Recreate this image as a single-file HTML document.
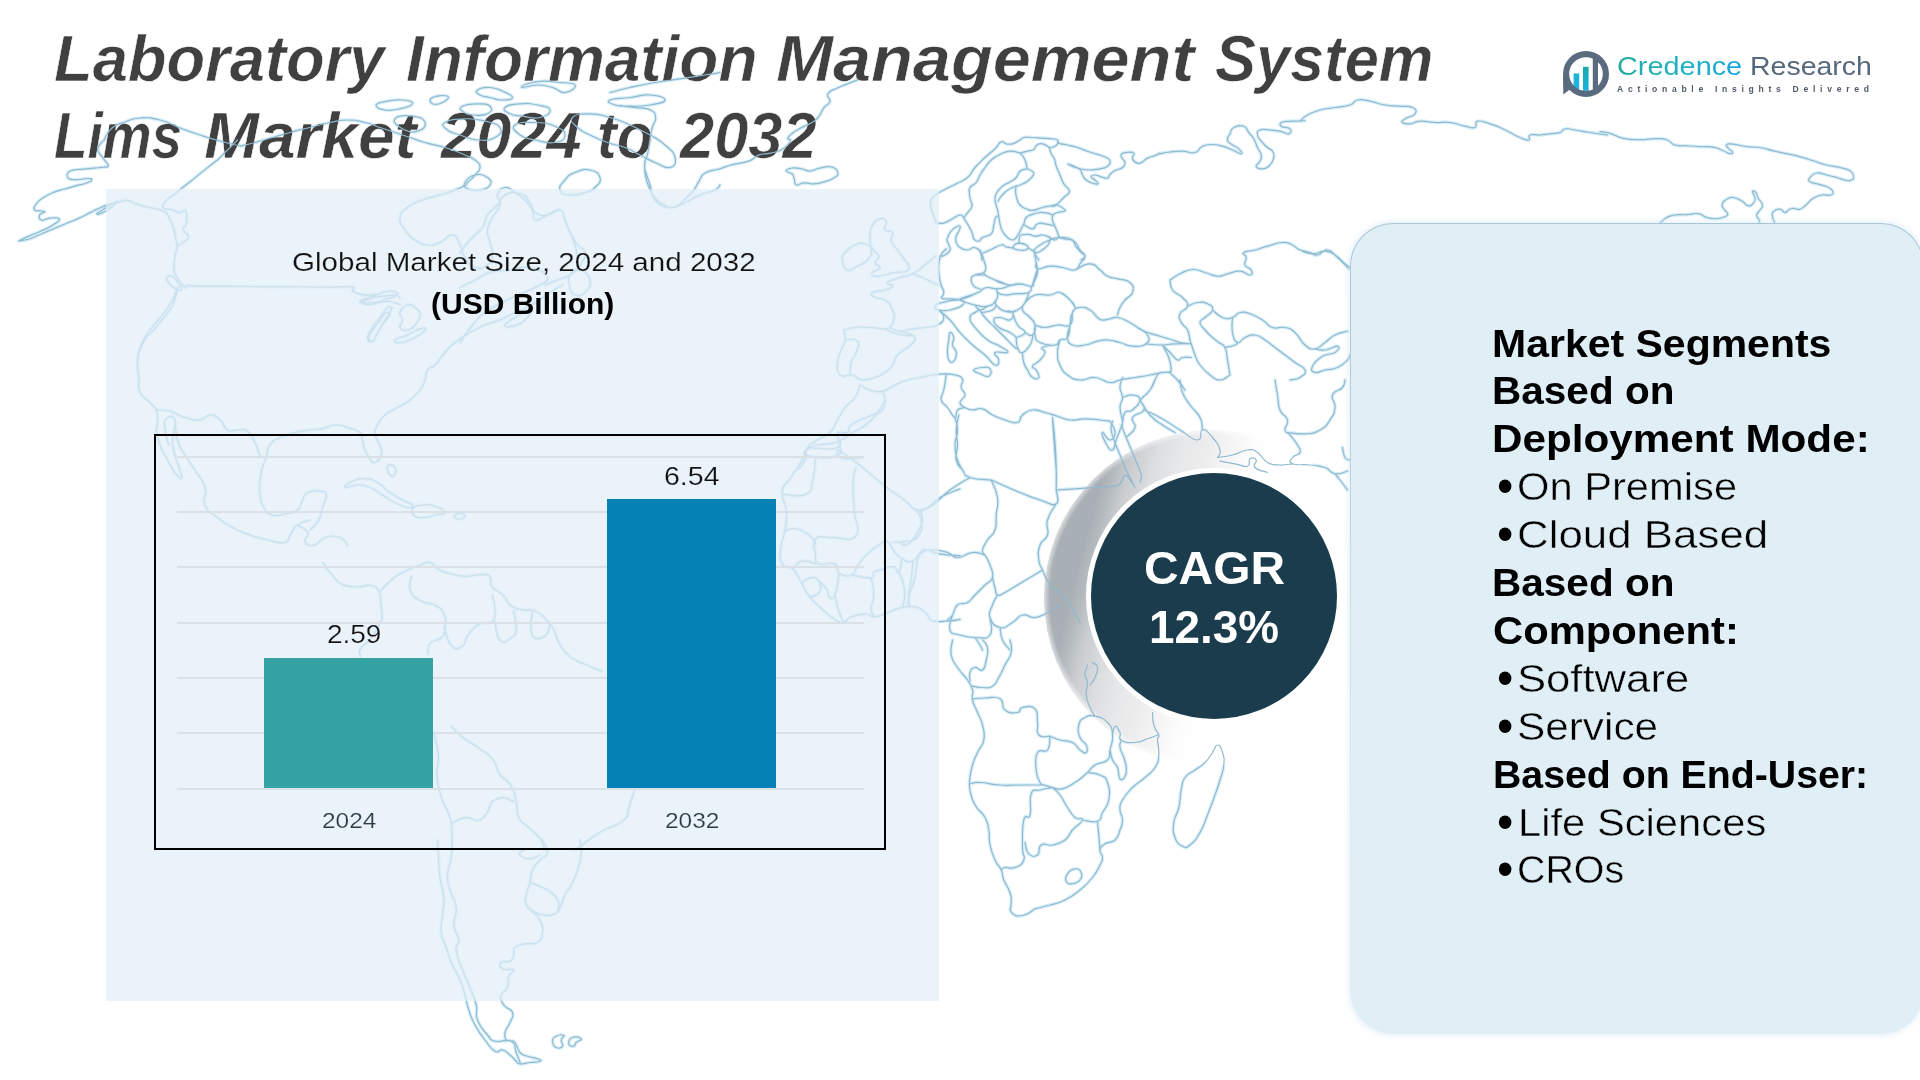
<!DOCTYPE html>
<html lang="en"><head><meta charset="utf-8">
<title>Laboratory Information Management System Lims Market 2024 to 2032</title>
<style>
html,body{margin:0;padding:0;background:#fff}
body{width:1920px;height:1080px;position:relative;overflow:hidden;font-family:'Liberation Sans', sans-serif}
h1,section,header{margin:0;padding:0}
.tx{position:absolute;white-space:pre;transform-origin:0 0;margin:0;display:block}
.ttl{-webkit-text-stroke:0.6px #fff}
.thinS{-webkit-text-stroke:0.45px #e0eff6}
.thinC{-webkit-text-stroke:0.2px #eaf3fa}
@supports ((-webkit-background-clip:text) or (background-clip:text)){.cred{background:linear-gradient(90deg,#22a99b 0%,#1fb2c4 50%,#1aa6dc 100%);-webkit-background-clip:text;background-clip:text;-webkit-text-fill-color:transparent}}
.map{position:absolute;left:0;top:0;width:1920px;height:1080px}
#panel{position:absolute;left:106px;top:189px;width:832.5px;height:812px;background:rgba(226,238,248,.72)}
#chart{position:absolute;left:154px;top:434px;width:728px;height:412px;border:2px solid #000}
.gl{position:absolute;left:177px;width:687px;height:1.8px;background:#d9e0e6}
.bar{position:absolute}
#b1{left:264px;top:658px;width:169px;height:130px;background:#35a2a3}
#b2{left:607px;top:499px;width:169px;height:289px;background:#0581b3}
#cres{position:absolute;left:1044px;top:430px;width:336px;height:336px;border-radius:50%;
 background:radial-gradient(circle closest-side,rgba(255,255,255,0) 96.5%,rgba(255,255,255,.5) 99.5%),linear-gradient(104.5deg,#a9b0b5 0%,#a9b0b5 16.5%,#b4b9bd 19%,#c9cdd0 22.5%,#dcdee0 28.5%,#e7e8e9 34%,#ededee 40%,#f5f5f6 45%,#fcfcfc 50%,#fff 54%,#fff 100%)}
#circ{position:absolute;left:1086px;top:468px;width:246px;height:246px;border-radius:50%;background:#1a3c4c;border:5px solid #fff}
#seg{position:absolute;left:1349.5px;top:223px;width:574px;height:811px;border-radius:43px;border:1.6px solid transparent;box-sizing:border-box;
 background:linear-gradient(#e0eff6,#e0eff6) padding-box,linear-gradient(180deg,#a6c5d8 0%,#b4d0de 25%,#cfe2ea 55%,#e0eff6 85%) border-box;box-shadow:0 0 6px 1px rgba(205,228,240,.6)}
</style></head>
<body>
<svg class="map" id="mapglow" viewBox="0 0 1920 1080" aria-hidden="true"><defs><path id="wm" d="M936.2 222.5C935.2 219.8 934.0 217.8 932.5 212.5C931.0 207.2 930.3 206.8 930.6 202.5C931.0 198.2 930.2 199.6 933.8 196.2C937.2 192.9 937.8 193.3 943.8 190.0C949.8 186.7 949.9 187.1 956.2 183.8C962.6 180.4 962.5 181.8 967.5 177.5C972.5 173.2 970.3 172.8 975.0 167.5C979.7 162.2 979.7 162.5 985.0 157.5C990.3 152.5 990.7 152.9 995.0 148.8C999.3 144.6 998.2 143.2 1001.2 141.9C1004.2 140.5 1003.2 143.2 1006.2 143.8C1009.2 144.2 1008.8 144.8 1012.5 143.8C1016.2 142.8 1017.0 141.7 1020.0 140.0C1023.0 138.3 1020.4 138.2 1023.8 137.5C1027.1 136.8 1027.5 137.3 1032.5 137.5C1037.5 137.7 1037.2 137.8 1042.5 138.1C1047.8 138.5 1048.5 138.2 1052.5 138.8C1056.5 139.2 1055.8 138.8 1057.5 140.0C1059.2 141.2 1056.1 141.8 1058.8 143.1C1061.4 144.5 1062.5 143.8 1067.5 145.0C1072.5 146.2 1072.2 145.8 1077.5 147.5C1082.8 149.2 1082.2 149.4 1087.5 151.2C1092.8 153.1 1092.5 152.7 1097.5 154.4C1102.5 156.0 1102.9 155.7 1106.2 157.5C1109.6 159.3 1109.7 158.9 1110.0 161.2C1110.3 163.6 1110.2 164.2 1107.5 166.2C1104.8 168.2 1104.7 167.8 1100.0 168.8C1095.3 169.8 1095.3 170.0 1090.0 170.0C1084.7 170.0 1084.7 169.9 1080.0 168.8C1075.3 167.6 1075.7 166.9 1072.5 165.6C1069.3 164.4 1067.8 163.7 1068.1 164.0C1068.5 164.3 1070.6 165.4 1073.8 166.9C1076.9 168.3 1077.7 167.2 1080.0 169.4C1082.3 171.5 1080.8 172.2 1082.5 175.0C1084.2 177.8 1083.6 177.8 1086.2 180.0C1088.9 182.2 1089.3 182.1 1092.5 183.1C1095.7 184.1 1097.5 184.6 1098.1 183.8C1098.8 182.9 1096.8 181.8 1095.0 180.0C1093.2 178.2 1091.2 178.2 1091.2 176.9C1091.2 175.5 1092.3 175.0 1095.0 175.0C1097.7 175.0 1097.9 176.0 1101.2 176.9C1104.6 177.7 1105.2 178.8 1107.5 178.1C1109.8 177.5 1108.0 176.4 1110.0 174.4C1112.0 172.4 1111.7 172.5 1115.0 170.6C1118.3 168.8 1119.8 169.7 1122.5 167.5C1125.2 165.3 1125.0 164.8 1125.0 162.5C1125.0 160.2 1123.5 160.9 1122.5 158.8C1121.5 156.6 1120.2 156.0 1121.2 154.4C1122.2 152.7 1122.9 152.8 1126.2 152.5C1129.6 152.2 1132.1 151.5 1133.8 153.1C1135.4 154.8 1131.5 156.1 1132.5 158.8C1133.5 161.4 1134.8 162.3 1137.5 163.1C1140.2 164.0 1139.8 163.2 1142.5 161.9C1145.2 160.5 1144.2 159.8 1147.5 158.1C1150.8 156.5 1151.7 157.0 1155.0 155.6C1158.3 154.3 1158.7 153.8 1160.0 153.1M963.8 217.5C965.1 215.8 966.6 214.2 968.8 211.2C970.9 208.2 971.4 209.2 971.9 206.2C972.4 203.2 971.3 203.3 970.6 200.0C970.0 196.7 969.5 197.1 969.4 193.8C969.2 190.4 968.2 190.5 970.0 187.5C971.8 184.5 973.6 185.8 976.2 182.5C978.9 179.2 977.7 179.0 980.0 175.0C982.3 171.0 982.0 171.5 985.0 167.5C988.0 163.5 987.2 163.5 991.2 160.0C995.2 156.5 995.0 156.7 1000.0 154.4C1005.0 152.0 1004.7 151.6 1010.0 151.2C1015.3 150.9 1017.3 152.6 1020.0 153.1M1020.0 153.1C1022.0 152.6 1023.8 152.2 1027.5 151.2C1031.2 150.2 1031.2 151.0 1033.8 149.4C1036.2 147.7 1034.5 146.5 1036.9 145.0C1039.2 143.5 1039.7 143.4 1042.5 143.8C1045.3 144.1 1045.5 145.2 1047.5 146.2C1049.5 147.2 1048.0 147.5 1050.0 147.5C1052.0 147.5 1052.8 147.4 1055.0 146.2C1057.2 145.1 1057.3 144.0 1058.1 143.1M1020.0 153.1C1021.0 154.3 1022.1 154.7 1023.8 157.5C1025.4 160.3 1025.4 160.8 1026.2 163.8C1027.1 166.8 1026.7 167.4 1026.9 168.8M1049.4 147.5C1049.9 149.2 1049.9 150.8 1051.2 153.8C1052.6 156.8 1053.0 155.4 1054.4 158.8C1055.7 162.1 1054.8 161.9 1056.2 166.2C1057.8 170.6 1058.0 170.3 1060.0 175.0C1062.0 179.7 1061.2 179.4 1063.8 183.8C1066.2 188.1 1069.4 187.6 1069.4 191.2C1069.4 194.9 1067.2 193.8 1063.8 197.5C1060.2 201.2 1059.2 202.7 1056.2 205.0C1053.2 207.3 1053.5 205.9 1052.5 206.2M1026.9 168.8C1025.0 169.4 1022.8 168.9 1020.0 171.2C1017.2 173.6 1018.9 174.7 1016.2 177.5C1013.6 180.3 1013.7 179.5 1010.0 181.9C1006.3 184.2 1006.0 183.4 1002.5 186.2C999.0 189.1 998.9 189.2 996.9 192.5C994.9 195.8 995.2 195.4 995.0 198.8C994.8 202.1 995.4 201.3 996.2 205.0C997.1 208.7 997.1 207.5 998.1 212.5C999.1 217.5 998.8 218.8 1000.0 223.8C1001.2 228.8 1000.5 227.6 1002.5 231.2C1004.5 234.9 1004.8 235.2 1007.5 237.5C1010.2 239.8 1010.2 240.0 1012.5 240.0C1014.8 240.0 1014.2 239.8 1016.2 237.5C1018.2 235.2 1018.0 234.9 1020.0 231.2C1022.0 227.6 1022.1 227.4 1023.8 223.8C1025.4 220.1 1023.9 220.0 1026.2 217.5C1028.6 215.0 1028.8 215.7 1032.5 214.4C1036.2 213.0 1036.0 212.8 1040.0 212.5C1044.0 212.2 1044.2 212.5 1047.5 213.1C1050.8 213.8 1051.2 214.5 1052.5 215.0M1026.9 168.8C1028.5 169.6 1031.6 169.9 1033.1 171.9C1034.6 173.9 1034.0 173.8 1032.5 176.2C1031.0 178.8 1030.8 178.9 1027.5 181.2C1024.2 183.6 1024.0 183.3 1020.0 185.0C1016.0 186.7 1016.2 185.8 1012.5 187.5C1008.8 189.2 1009.2 188.9 1006.2 191.2C1003.2 193.6 1003.4 193.6 1001.2 196.2C999.1 198.9 999.0 199.9 998.1 201.2M1016.2 186.2C1016.1 187.6 1015.5 187.9 1015.6 191.2C1015.8 194.6 1015.7 195.1 1016.9 198.8C1018.0 202.4 1017.5 202.3 1020.0 205.0C1022.5 207.7 1022.9 207.3 1026.2 208.8C1029.6 210.2 1028.2 210.7 1032.5 210.4C1036.8 210.0 1037.2 208.8 1042.5 207.5C1047.8 206.2 1048.7 206.3 1052.5 205.6C1056.3 205.0 1053.9 204.2 1056.9 205.0C1059.9 205.8 1061.8 207.1 1063.8 208.8C1065.8 210.4 1066.0 210.2 1064.4 211.2C1062.7 212.2 1060.5 211.5 1057.5 212.5C1054.5 213.5 1054.5 213.0 1053.1 215.0C1051.8 217.0 1052.2 217.3 1052.5 220.0C1052.8 222.7 1053.9 223.7 1054.4 225.0M998.8 216.2C997.9 216.6 997.0 215.2 995.6 217.5C994.3 219.8 994.9 220.7 993.8 225.0C992.6 229.3 994.2 230.4 991.2 233.8C988.2 237.1 985.8 235.5 982.5 237.5C979.2 239.5 981.1 240.9 978.8 241.2C976.4 241.6 975.4 240.8 973.8 238.8C972.1 236.8 973.8 237.1 972.5 233.8C971.2 230.4 971.1 230.4 968.8 226.2C966.4 222.1 966.1 221.1 963.8 218.1C961.4 215.1 963.0 214.8 960.0 215.0C957.0 215.2 956.8 216.6 952.5 218.8C948.2 220.9 948.1 222.1 943.8 223.1C939.4 224.1 938.2 222.7 936.2 222.5M1024.4 225.0C1026.5 226.0 1029.0 229.1 1032.5 228.8C1036.0 228.4 1034.2 225.1 1037.5 223.8C1040.8 222.4 1040.8 223.2 1045.0 223.8C1049.2 224.2 1051.0 225.1 1053.1 225.6M1020.0 235.0C1022.3 234.8 1024.8 234.0 1028.8 234.4C1032.8 234.7 1031.3 236.1 1035.0 236.2C1038.7 236.4 1038.5 234.7 1042.5 235.0C1046.5 235.3 1046.7 236.2 1050.0 237.5C1053.3 238.8 1052.7 240.3 1055.0 240.0C1057.3 239.7 1057.8 237.2 1058.8 236.2M1054.4 225.0C1055.2 227.0 1056.2 229.3 1057.5 232.5C1058.8 235.7 1057.7 235.2 1059.4 236.9C1061.0 238.5 1060.2 237.8 1063.8 238.8C1067.2 239.8 1069.2 238.5 1072.5 240.6C1075.8 242.8 1073.9 243.7 1076.2 246.9C1078.6 250.0 1078.9 250.0 1081.2 252.5C1083.6 255.0 1085.0 254.2 1085.0 256.2C1085.0 258.2 1082.2 259.0 1081.2 260.0M1050.0 237.5C1049.7 239.2 1050.4 240.8 1048.8 243.8C1047.1 246.8 1046.8 246.4 1043.8 248.8C1040.8 251.1 1040.2 251.8 1037.5 252.5C1034.8 253.2 1036.1 252.4 1033.8 251.2C1031.4 250.1 1030.8 249.8 1028.8 248.1C1026.8 246.5 1028.9 246.3 1026.2 245.0C1023.6 243.7 1020.8 243.6 1018.8 243.1M1013.8 248.1C1012.8 246.6 1013.3 245.7 1015.0 244.4C1016.7 243.0 1017.0 243.0 1020.0 243.1C1023.0 243.3 1024.1 243.7 1026.2 245.0C1028.4 246.3 1028.5 246.8 1028.1 248.1C1027.8 249.5 1027.5 249.5 1025.0 250.0C1022.5 250.5 1021.8 250.5 1018.8 250.0C1015.8 249.5 1014.8 249.6 1013.8 248.1M1018.8 243.1C1018.9 241.6 1019.0 239.7 1019.4 237.5C1019.7 235.3 1019.8 235.7 1020.0 235.0M981.2 253.8C983.6 252.8 984.7 252.3 990.0 250.0C995.3 247.7 996.9 245.8 1001.2 245.0C1005.6 244.2 1002.9 246.0 1006.2 246.9C1009.6 247.7 1011.8 247.8 1013.8 248.1M946.9 240.0C947.7 238.0 947.5 236.0 950.0 232.5C952.5 229.0 953.6 228.5 956.2 226.9C958.9 225.2 959.3 225.1 960.0 226.2C960.7 227.4 959.8 228.6 958.8 231.2C957.8 233.9 956.9 233.2 956.2 236.2C955.6 239.2 955.2 239.5 956.2 242.5C957.2 245.5 957.0 245.5 960.0 247.5C963.0 249.5 963.8 250.0 967.5 250.0C971.2 250.0 970.8 247.5 973.8 247.5C976.8 247.5 976.8 248.0 978.8 250.0C980.8 252.0 980.4 252.3 981.2 255.0C982.1 257.7 981.7 258.7 981.9 260.0M946.9 240.0C947.4 241.3 947.9 242.3 948.8 245.0C949.6 247.7 951.0 247.3 950.0 250.0C949.0 252.7 947.7 253.3 945.0 255.0C942.3 256.7 941.3 255.9 940.0 256.2M1033.8 251.2C1034.4 252.6 1034.9 253.9 1036.2 256.2C1037.6 258.6 1038.1 259.0 1038.8 260.0M1160.0 153.8C1162.7 153.3 1164.0 152.7 1170.0 152.0C1176.0 151.3 1175.8 151.1 1182.5 151.2C1189.2 151.4 1189.7 153.8 1195.0 152.5C1200.3 151.2 1197.8 148.4 1202.5 146.2C1207.2 144.1 1207.2 144.5 1212.5 144.5C1217.8 144.5 1217.2 144.8 1222.5 146.2C1227.8 147.7 1227.5 148.0 1232.5 150.0C1237.5 152.0 1239.6 154.1 1241.2 153.8C1242.9 153.4 1241.1 151.1 1238.8 148.8C1236.4 146.4 1235.5 147.3 1232.5 145.0C1229.5 142.7 1228.2 143.0 1227.5 140.0C1226.8 137.0 1228.3 137.1 1230.0 133.8C1231.7 130.4 1230.1 129.5 1233.8 127.5C1237.4 125.5 1239.8 124.9 1243.8 126.2C1247.8 127.6 1246.1 129.2 1248.8 132.5C1251.4 135.8 1251.4 134.8 1253.8 138.8C1256.1 142.8 1255.5 143.2 1257.5 147.5C1259.5 151.8 1260.6 151.3 1261.2 155.0C1261.9 158.7 1261.3 158.2 1260.0 161.2C1258.7 164.2 1255.6 164.2 1256.2 166.2C1256.9 168.2 1258.8 169.1 1262.5 168.8C1266.2 168.4 1267.0 168.0 1270.0 165.0C1273.0 162.0 1273.1 161.2 1273.8 157.5C1274.4 153.8 1274.2 153.9 1272.5 151.2C1270.8 148.6 1270.5 150.2 1267.5 147.5C1264.5 144.8 1263.9 144.6 1261.2 141.2C1258.6 137.9 1257.8 138.0 1257.5 135.0C1257.2 132.0 1256.7 131.3 1260.0 130.0C1263.3 128.7 1264.7 129.7 1270.0 130.0C1275.3 130.3 1275.0 130.2 1280.0 131.2C1285.0 132.2 1286.1 134.4 1288.8 133.8C1291.4 133.1 1292.0 130.8 1290.0 128.8C1288.0 126.8 1283.2 128.1 1281.2 126.2C1279.2 124.5 1279.5 123.3 1282.5 122.0C1285.5 120.7 1286.5 121.6 1292.5 121.2C1298.5 120.9 1301.7 120.9 1305.0 120.8M1075.0 270.0C1079.0 268.3 1083.3 263.8 1090.0 263.8C1096.7 263.8 1095.3 266.7 1100.0 270.0C1104.7 273.3 1102.8 273.9 1107.5 276.2C1112.2 278.6 1111.5 277.1 1117.5 278.8C1123.5 280.4 1126.0 278.8 1130.0 282.5C1134.0 286.2 1133.8 287.8 1132.5 292.5C1131.2 297.2 1128.3 296.0 1125.0 300.0C1121.7 304.0 1122.0 303.5 1120.0 307.5C1118.0 311.5 1118.2 313.0 1117.5 315.0M1037.5 268.8 L1032.5 285.0M1072.5 312.5C1069.8 317.2 1071.3 318.3 1070.0 325.0C1068.7 331.7 1066.8 332.2 1067.5 337.5C1068.2 342.8 1067.8 343.0 1072.5 345.0C1077.2 347.0 1078.3 346.0 1085.0 345.0C1091.7 344.0 1091.5 342.6 1097.5 341.2C1103.5 339.9 1101.5 339.7 1107.5 340.0C1113.5 340.3 1113.3 340.8 1120.0 342.5C1126.7 344.2 1125.5 345.9 1132.5 346.2C1139.5 346.6 1142.2 346.8 1146.2 343.8C1150.2 340.8 1149.8 339.3 1147.5 335.0C1145.2 330.7 1142.8 331.2 1137.5 327.5C1132.2 323.8 1132.8 323.9 1127.5 321.2C1122.2 318.6 1122.2 318.2 1117.5 317.5C1112.8 316.8 1114.0 318.1 1110.0 318.8C1106.0 319.4 1105.8 320.3 1102.5 320.0C1099.2 319.7 1100.8 320.2 1097.5 317.5C1094.2 314.8 1094.7 312.7 1090.0 310.0C1085.3 307.3 1084.7 306.8 1080.0 307.5C1075.3 308.2 1075.2 307.8 1072.5 312.5M1140.0 328.8C1142.0 329.8 1142.2 330.5 1147.5 332.5C1152.8 334.5 1153.3 334.2 1160.0 336.2C1166.7 338.2 1167.2 338.3 1172.5 340.0C1177.8 341.7 1175.3 341.5 1180.0 342.5C1184.7 343.5 1187.3 343.4 1190.0 343.8M1146.2 343.8C1149.9 344.1 1152.3 345.0 1160.0 345.0C1167.7 345.0 1166.7 344.1 1175.0 343.8C1183.3 343.4 1186.9 343.8 1191.2 343.8M1162.5 345.0C1164.5 347.0 1166.0 348.5 1170.0 352.5C1174.0 356.5 1174.2 358.7 1177.5 360.0C1180.8 361.3 1178.8 358.2 1182.5 357.5C1186.2 356.8 1188.9 357.5 1191.2 357.5M1170.0 280.0C1172.7 278.3 1174.0 276.6 1180.0 273.8C1186.0 270.9 1185.8 269.8 1192.5 269.5C1199.2 269.2 1198.3 270.7 1205.0 272.5C1211.7 274.3 1211.5 275.9 1217.5 276.2C1223.5 276.6 1221.5 275.1 1227.5 273.8C1233.5 272.4 1234.0 270.9 1240.0 271.2C1246.0 271.6 1247.0 275.3 1250.0 275.0C1253.0 274.7 1252.6 272.7 1251.2 270.0C1249.9 267.3 1246.3 268.3 1245.0 265.0C1243.7 261.7 1246.6 260.8 1246.2 257.5C1245.9 254.2 1241.4 254.5 1243.8 252.5C1246.1 250.5 1248.7 251.7 1255.0 250.0C1261.3 248.3 1260.2 248.2 1267.5 246.2C1274.8 244.2 1275.8 242.8 1282.5 242.5C1289.2 242.2 1287.8 243.0 1292.5 245.0C1297.2 247.0 1294.7 247.7 1300.0 250.0C1305.3 252.3 1305.8 253.4 1312.5 253.8C1319.2 254.1 1319.0 250.9 1325.0 251.2C1331.0 251.6 1329.7 251.7 1335.0 255.0C1340.3 258.3 1341.0 260.4 1345.0 263.8C1349.0 267.1 1348.7 266.5 1350.0 267.5M1170.0 280.0C1170.7 282.7 1169.2 285.3 1172.5 290.0C1175.8 294.7 1178.5 293.2 1182.5 297.5C1186.5 301.8 1188.2 301.9 1187.5 306.2C1186.8 310.6 1181.7 309.4 1180.0 313.8C1178.3 318.1 1179.2 318.2 1181.2 322.5C1183.2 326.8 1185.2 325.3 1187.5 330.0C1189.8 334.7 1189.0 336.3 1190.0 340.0C1191.0 343.7 1189.9 339.8 1191.2 343.8C1192.6 347.8 1192.7 349.3 1195.0 355.0C1197.3 360.7 1196.0 359.7 1200.0 365.0C1204.0 370.3 1204.7 371.0 1210.0 375.0C1215.3 379.0 1214.7 380.0 1220.0 380.0C1225.3 380.0 1227.3 376.3 1230.0 375.0M1187.5 306.2C1190.2 305.2 1192.2 303.2 1197.5 302.5C1202.8 301.8 1203.5 301.8 1207.5 303.8C1211.5 305.8 1213.2 306.3 1212.5 310.0C1211.8 313.7 1208.3 314.2 1205.0 317.5C1201.7 320.8 1200.0 319.2 1200.0 322.5C1200.0 325.8 1201.7 326.0 1205.0 330.0C1208.3 334.0 1208.8 334.2 1212.5 337.5C1216.2 340.8 1215.4 339.8 1218.8 342.5C1222.1 345.2 1222.7 342.8 1225.0 347.5C1227.3 352.2 1226.2 352.7 1227.5 360.0C1228.8 367.3 1229.3 371.0 1230.0 375.0M1212.5 310.0C1215.2 312.0 1217.2 315.5 1222.5 317.5C1227.8 319.5 1227.8 318.8 1232.5 317.5C1237.2 316.2 1235.3 313.5 1240.0 312.5C1244.7 311.5 1244.0 311.8 1250.0 313.8C1256.0 315.8 1256.5 316.3 1262.5 320.0C1268.5 323.7 1266.5 325.5 1272.5 327.5C1278.5 329.5 1279.0 326.2 1285.0 327.5C1291.0 328.8 1289.7 327.8 1295.0 332.5C1300.3 337.2 1299.7 340.7 1305.0 345.0C1310.3 349.3 1309.7 349.4 1315.0 348.8C1320.3 348.1 1319.7 346.2 1325.0 342.5C1330.3 338.8 1329.0 338.0 1335.0 335.0C1341.0 332.0 1344.2 332.2 1347.5 331.2M1232.5 317.5C1232.5 321.5 1231.2 325.8 1232.5 332.5C1233.8 339.2 1234.2 341.2 1237.5 342.5C1240.8 343.8 1240.3 339.5 1245.0 337.5C1249.7 335.5 1249.7 334.3 1255.0 335.0C1260.3 335.7 1259.7 336.7 1265.0 340.0C1270.3 343.3 1269.7 343.5 1275.0 347.5C1280.3 351.5 1279.7 351.0 1285.0 355.0C1290.3 359.0 1289.7 358.5 1295.0 362.5C1300.3 366.5 1303.7 366.0 1305.0 370.0C1306.3 374.0 1304.0 374.8 1300.0 377.5C1296.0 380.2 1292.7 379.3 1290.0 380.0M1315.0 348.8C1317.7 349.1 1319.0 350.7 1325.0 350.0C1331.0 349.3 1334.8 345.6 1337.5 346.2C1340.2 346.9 1339.0 349.8 1335.0 352.5C1331.0 355.2 1328.5 352.6 1322.5 356.2C1316.5 359.9 1314.5 361.9 1312.5 366.2C1310.5 370.6 1311.7 371.5 1315.0 372.5C1318.3 373.5 1319.0 371.3 1325.0 370.0C1331.0 368.7 1331.5 370.2 1337.5 367.5C1343.5 364.8 1344.2 363.3 1347.5 360.0C1350.8 356.7 1349.3 356.3 1350.0 355.0M1225.0 347.5C1227.7 346.8 1231.7 346.3 1235.0 345.0C1238.3 343.7 1236.8 343.2 1237.5 342.5M1162.5 345.0C1164.2 348.3 1166.4 350.8 1168.8 357.5C1171.1 364.2 1170.9 366.0 1171.2 370.0C1171.6 374.0 1168.3 369.8 1170.0 372.5C1171.7 375.2 1173.5 375.3 1177.5 380.0C1181.5 384.7 1183.0 387.3 1185.0 390.0M980.0 250.0C981.0 252.7 982.4 254.3 983.8 260.0C985.1 265.7 987.3 267.2 985.0 271.2C982.7 275.2 978.7 273.0 975.0 275.0C971.3 277.0 971.6 275.8 971.2 278.8C970.9 281.8 971.1 283.2 973.8 286.2C976.4 289.2 980.9 288.0 981.2 290.0C981.6 292.0 980.0 291.4 975.0 293.8C970.0 296.1 969.2 297.4 962.5 298.8C955.8 300.1 955.0 298.8 950.0 298.8C945.0 298.8 946.1 299.1 943.8 298.8C941.4 298.4 941.9 297.8 941.2 297.5M946.2 248.8C944.6 251.1 942.0 251.2 940.0 257.5C938.0 263.8 938.4 265.2 938.8 272.5C939.1 279.8 939.9 279.7 941.2 285.0C942.6 290.3 943.8 289.2 943.8 292.5C943.8 295.8 941.9 296.2 941.2 297.5M1033.8 250.0C1034.4 253.3 1035.2 256.5 1036.2 262.5C1037.2 268.5 1038.2 267.2 1037.5 272.5C1036.8 277.8 1035.4 278.8 1033.8 282.5C1032.1 286.2 1034.9 285.9 1031.2 286.2C1027.6 286.6 1025.7 284.1 1020.0 283.8C1014.3 283.4 1015.3 285.3 1010.0 285.0C1004.7 284.7 1004.0 283.8 1000.0 282.5C996.0 281.2 999.0 282.0 995.0 280.0C991.0 278.0 987.7 277.3 985.0 275.0C982.3 272.7 985.0 272.2 985.0 271.2M975.0 275.0 L985.0 275.0M995.0 280.0C997.7 281.0 1001.7 282.1 1005.0 283.8C1008.3 285.4 1009.5 284.9 1007.5 286.2C1005.5 287.6 1002.8 288.4 997.5 288.8C992.2 289.1 991.8 287.2 987.5 287.5C983.2 287.8 982.9 289.3 981.2 290.0M1007.5 286.2 L1020.0 283.8M1031.2 286.2C1030.6 287.9 1033.1 290.5 1028.8 292.5C1024.4 294.5 1021.3 293.1 1015.0 293.8C1008.7 294.4 1009.7 295.3 1005.0 295.0C1000.3 294.7 999.5 294.2 997.5 292.5C995.5 290.8 997.5 289.8 997.5 288.8M960.0 298.8 L975.0 293.8M997.5 292.5C997.2 294.5 998.9 296.3 996.2 300.0C993.6 303.7 993.2 304.9 987.5 306.2C981.8 307.6 981.7 306.3 975.0 305.0C968.3 303.7 966.5 302.9 962.5 301.2C958.5 299.6 960.7 299.4 960.0 298.8M1028.8 292.5C1027.8 295.2 1028.0 297.8 1025.0 302.5C1022.0 307.2 1022.8 307.7 1017.5 310.0C1012.2 312.3 1010.7 312.6 1005.0 311.2C999.3 309.9 998.6 308.0 996.2 305.0C993.9 302.0 996.2 301.3 996.2 300.0M935.0 306.2C936.0 304.2 935.8 304.2 942.5 302.5C949.2 300.8 954.7 299.3 960.0 300.0C965.3 300.7 965.2 302.3 962.5 305.0C959.8 307.7 956.3 308.7 950.0 310.0C943.7 311.3 942.8 311.0 938.8 310.0C934.8 309.0 934.0 308.2 935.0 306.2M975.0 305.0C976.3 306.3 976.7 309.7 980.0 310.0C983.3 310.3 985.5 307.2 987.5 306.2M982.5 312.5C985.2 311.8 988.8 312.0 992.5 310.0C996.2 308.0 995.2 306.3 996.2 305.0M980.0 310.0C981.3 312.0 981.0 312.8 985.0 317.5C989.0 322.2 989.7 322.2 995.0 327.5C1000.3 332.8 999.7 332.2 1005.0 337.5C1010.3 342.8 1011.7 344.8 1015.0 347.5C1018.3 350.2 1016.8 347.5 1017.5 347.5M1005.0 311.2C1007.0 311.6 1011.2 310.2 1012.5 312.5C1013.8 314.8 1013.3 318.7 1010.0 320.0C1006.7 321.3 1004.3 317.5 1000.0 317.5C995.7 317.5 994.1 317.3 993.8 320.0C993.4 322.7 994.4 324.2 998.8 327.5C1003.1 330.8 1005.3 329.8 1010.0 332.5C1014.7 335.2 1014.6 336.2 1016.2 337.5M1012.5 312.5 L1017.5 310.0M1016.2 337.5C1018.6 336.2 1024.7 335.8 1025.0 332.5C1025.3 329.2 1020.8 330.3 1017.5 325.0C1014.2 319.7 1013.8 315.8 1012.5 312.5M1025.0 302.5C1024.3 304.5 1021.2 306.0 1022.5 310.0C1023.8 314.0 1026.7 313.5 1030.0 317.5C1033.3 321.5 1034.3 320.3 1035.0 325.0C1035.7 329.7 1035.2 333.0 1032.5 335.0C1029.8 337.0 1027.0 333.2 1025.0 332.5M1025.0 302.5C1027.7 300.5 1028.3 297.0 1035.0 295.0C1041.7 293.0 1043.3 295.7 1050.0 295.0C1056.7 294.3 1054.7 291.2 1060.0 292.5C1065.3 293.8 1066.0 296.0 1070.0 300.0C1074.0 304.0 1074.3 304.2 1075.0 307.5C1075.7 310.8 1073.8 307.8 1072.5 312.5C1071.2 317.2 1074.0 321.7 1070.0 325.0C1066.0 328.3 1064.2 324.3 1057.5 325.0C1050.8 325.7 1051.0 327.5 1045.0 327.5C1039.0 327.5 1037.7 325.7 1035.0 325.0M1060.0 292.5C1062.0 293.8 1063.8 294.2 1067.5 297.5C1071.2 300.8 1071.8 302.3 1073.8 305.0C1075.8 307.7 1074.7 306.8 1075.0 307.5M1035.0 325.0C1035.0 327.7 1033.7 330.3 1035.0 335.0C1036.3 339.7 1034.7 339.8 1040.0 342.5C1045.3 345.2 1049.7 345.7 1055.0 345.0C1060.3 344.3 1056.7 342.0 1060.0 340.0C1063.3 338.0 1064.8 341.5 1067.5 337.5C1070.2 333.5 1069.3 328.3 1070.0 325.0M1016.2 337.5C1016.6 340.2 1015.8 343.5 1017.5 347.5C1019.2 351.5 1019.2 353.2 1022.5 352.5C1025.8 351.8 1027.3 349.0 1030.0 345.0C1032.7 341.0 1031.8 340.2 1032.5 337.5C1033.2 334.8 1032.5 335.7 1032.5 335.0M1022.5 352.5C1022.8 355.2 1022.4 357.8 1023.8 362.5C1025.1 367.2 1025.2 366.0 1027.5 370.0C1029.8 374.0 1029.5 375.5 1032.5 377.5C1035.5 379.5 1037.8 379.5 1038.8 377.5C1039.8 375.5 1037.9 373.0 1036.2 370.0C1034.6 367.0 1031.5 368.9 1032.5 366.2C1033.5 363.6 1036.7 363.7 1040.0 360.0C1043.3 356.3 1044.3 355.8 1045.0 352.5C1045.7 349.2 1039.8 349.5 1042.5 347.5C1045.2 345.5 1051.7 345.7 1055.0 345.0M1060.0 340.0C1059.3 343.3 1057.5 345.8 1057.5 352.5C1057.5 359.2 1057.3 359.0 1060.0 365.0C1062.7 371.0 1062.2 371.0 1067.5 375.0C1072.8 379.0 1072.7 379.3 1080.0 380.0C1087.3 380.7 1087.0 376.8 1095.0 377.5C1103.0 378.2 1103.3 381.8 1110.0 382.5C1116.7 383.2 1113.3 381.3 1120.0 380.0C1126.7 378.7 1127.0 378.8 1135.0 377.5C1143.0 376.2 1142.7 376.3 1150.0 375.0C1157.3 373.7 1157.2 373.2 1162.5 372.5C1167.8 371.8 1168.0 372.5 1170.0 372.5M1033.8 250.0C1035.4 248.7 1035.7 247.7 1040.0 245.0C1044.3 242.3 1044.7 242.0 1050.0 240.0C1055.3 238.0 1054.0 237.5 1060.0 237.5C1066.0 237.5 1067.2 236.7 1072.5 240.0C1077.8 243.3 1076.7 245.7 1080.0 250.0C1083.3 254.3 1085.0 252.6 1085.0 256.2C1085.0 259.9 1082.7 260.1 1080.0 263.8C1077.3 267.4 1079.7 269.0 1075.0 270.0C1070.3 271.0 1069.2 268.5 1062.5 267.5C1055.8 266.5 1056.7 265.9 1050.0 266.2C1043.3 266.6 1041.2 269.8 1037.5 268.8C1033.8 267.8 1036.6 264.2 1036.2 262.5M1037.5 268.8 L1032.5 285.0M938.8 310.0C941.8 312.7 944.3 314.0 950.0 320.0C955.7 326.0 954.0 325.8 960.0 332.5C966.0 339.2 965.8 339.0 972.5 345.0C979.2 351.0 979.0 349.7 985.0 355.0C991.0 360.3 991.3 363.7 995.0 365.0C998.7 366.3 998.8 363.3 998.8 360.0C998.8 356.7 992.7 354.5 995.0 352.5C997.3 350.5 1006.2 354.2 1007.5 352.5C1008.8 350.8 1005.3 349.6 1000.0 346.2C994.7 342.9 994.2 345.0 987.5 340.0C980.8 335.0 979.7 333.5 975.0 327.5C970.3 321.5 970.0 321.5 970.0 317.5C970.0 313.5 972.3 314.5 975.0 312.5C977.7 310.5 978.7 310.7 980.0 310.0M950.0 332.5C951.3 331.8 953.1 334.2 953.8 337.5C954.4 340.8 951.8 341.0 952.5 345.0C953.2 349.0 955.9 348.2 956.2 352.5C956.6 356.8 955.8 359.2 953.8 361.2C951.8 363.2 950.4 363.0 948.8 360.0C947.1 357.0 947.5 355.3 947.5 350.0C947.5 344.7 948.1 344.7 948.8 340.0C949.4 335.3 948.7 333.2 950.0 332.5M973.8 370.0C974.4 368.3 978.2 367.8 982.5 367.5C986.8 367.2 988.3 366.4 990.0 368.8C991.7 371.1 991.4 374.9 988.8 376.2C986.1 377.6 984.0 375.4 980.0 373.8C976.0 372.1 973.1 371.7 973.8 370.0M890.0 327.5C892.7 328.5 894.0 330.9 900.0 331.2C906.0 331.6 905.8 329.8 912.5 328.8C919.2 327.8 918.3 328.5 925.0 327.5C931.7 326.5 932.5 327.7 937.5 325.0C942.5 322.3 943.4 321.5 943.8 317.5C944.1 313.5 940.1 312.0 938.8 310.0M872.5 225.0C875.2 220.0 876.3 219.8 880.0 218.8C883.7 217.8 884.9 218.2 886.2 221.2C887.6 224.2 883.3 227.0 885.0 230.0C886.7 233.0 890.8 229.5 892.5 232.5C894.2 235.5 889.9 236.6 891.2 241.2C892.6 245.9 894.2 245.3 897.5 250.0C900.8 254.7 900.8 254.4 903.8 258.8C906.8 263.1 908.1 262.9 908.8 266.2C909.4 269.6 909.9 269.6 906.2 271.2C902.6 272.9 900.7 271.5 895.0 272.5C889.3 273.5 890.3 274.0 885.0 275.0C879.7 276.0 878.3 276.9 875.0 276.2C871.7 275.6 871.2 274.8 872.5 272.5C873.8 270.2 879.3 270.2 880.0 267.5C880.7 264.8 875.3 265.5 875.0 262.5C874.7 259.5 879.4 259.9 878.8 256.2C878.1 252.6 874.8 253.8 872.5 248.8C870.2 243.8 870.0 243.8 870.0 237.5C870.0 231.2 869.8 230.0 872.5 225.0M842.5 261.2C841.8 256.6 841.7 256.8 845.0 252.5C848.3 248.2 849.7 247.3 855.0 245.0C860.3 242.7 860.7 242.4 865.0 243.8C869.3 245.1 870.6 245.7 871.2 250.0C871.9 254.3 871.2 255.7 867.5 260.0C863.8 264.3 862.8 263.6 857.5 266.2C852.2 268.9 851.5 271.3 847.5 270.0C843.5 268.7 843.2 265.9 842.5 261.2M935.0 256.2C932.3 258.6 931.0 260.3 925.0 265.0C919.0 269.7 919.2 270.4 912.5 273.8C905.8 277.1 906.7 275.2 900.0 277.5C893.3 279.8 889.5 280.2 887.5 282.5C885.5 284.8 893.2 284.2 892.5 286.2C891.8 288.2 890.3 288.3 885.0 290.0C879.7 291.7 875.2 290.5 872.5 292.5C869.8 294.5 871.7 295.5 875.0 297.5C878.3 299.5 880.3 296.7 885.0 300.0C889.7 303.3 890.2 304.7 892.5 310.0C894.8 315.3 894.4 315.3 893.8 320.0C893.1 324.7 891.0 325.5 890.0 327.5M912.5 273.8C915.2 274.8 917.2 275.2 922.5 277.5C927.8 279.8 928.2 280.5 932.5 282.5C936.8 284.5 937.1 284.3 938.8 285.0M843.8 330.0C846.8 329.3 848.0 328.2 855.0 327.5C862.0 326.8 862.0 327.2 870.0 327.5C878.0 327.8 879.7 328.8 885.0 328.8C890.3 328.8 888.7 327.8 890.0 327.5M912.5 335.0C913.2 336.3 916.3 336.7 915.0 340.0C913.7 343.3 912.2 343.5 907.5 347.5C902.8 351.5 901.5 350.3 897.5 355.0C893.5 359.7 895.8 360.3 892.5 365.0C889.2 369.7 889.7 369.2 885.0 372.5C880.3 375.8 881.0 375.5 875.0 377.5C869.0 379.5 867.8 380.3 862.5 380.0C857.2 379.7 858.3 377.6 855.0 376.2C851.7 374.9 854.0 375.3 850.0 375.0C846.0 374.7 843.3 378.3 840.0 375.0C836.7 371.7 837.2 369.2 837.5 362.5C837.8 355.8 839.2 356.0 841.2 350.0C843.2 344.0 844.3 345.3 845.0 340.0C845.7 334.7 844.1 332.7 843.8 330.0M850.0 375.0C850.3 371.7 849.6 368.5 851.2 362.5C852.9 356.5 854.6 358.2 856.2 352.5C857.9 346.8 860.5 344.6 857.5 341.2C854.5 337.9 848.3 340.3 845.0 340.0M885.0 328.8C888.3 330.1 890.2 332.1 897.5 333.8C904.8 335.4 911.8 335.7 912.5 335.0C913.2 334.3 903.3 332.2 900.0 331.2M860.0 385.0C862.7 386.3 864.0 388.3 870.0 390.0C876.0 391.7 875.8 392.6 882.5 391.2C889.2 389.9 888.3 388.0 895.0 385.0C901.7 382.0 900.8 382.0 907.5 380.0C914.2 378.0 913.3 378.8 920.0 377.5C926.7 376.2 925.8 376.0 932.5 375.0C939.2 374.0 939.0 373.8 945.0 373.8C951.0 373.8 950.3 373.7 955.0 375.0C959.7 376.3 960.8 375.4 962.5 378.8C964.2 382.1 960.6 383.2 961.2 387.5C961.9 391.8 965.3 391.0 965.0 395.0C964.7 399.0 960.0 399.2 960.0 402.5C960.0 405.8 961.7 405.5 965.0 407.5C968.3 409.5 967.8 409.7 972.5 410.0C977.2 410.3 977.2 407.4 982.5 408.8C987.8 410.1 986.5 412.0 992.5 415.0C998.5 418.0 998.3 418.0 1005.0 420.0C1011.7 422.0 1012.8 423.8 1017.5 422.5C1022.2 421.2 1018.5 418.3 1022.5 415.0C1026.5 411.7 1026.5 410.7 1032.5 410.0C1038.5 409.3 1038.3 410.8 1045.0 412.5C1051.7 414.2 1050.8 414.2 1057.5 416.2C1064.2 418.2 1062.7 419.3 1070.0 420.0C1077.3 420.7 1077.0 418.8 1085.0 418.8C1093.0 418.8 1093.3 419.3 1100.0 420.0C1106.7 420.7 1107.3 420.9 1110.0 421.2M860.0 385.0C858.7 388.3 859.0 391.5 855.0 397.5C851.0 403.5 849.7 401.5 845.0 407.5C840.3 413.5 841.5 413.3 837.5 420.0C833.5 426.7 835.3 427.2 830.0 432.5C824.7 437.8 823.5 436.0 817.5 440.0C811.5 444.0 810.8 442.2 807.5 447.5C804.2 452.8 807.7 454.0 805.0 460.0C802.3 466.0 799.5 467.3 797.5 470.0M882.5 391.2C883.2 393.6 885.0 395.0 885.0 400.0C885.0 405.0 885.8 406.0 882.5 410.0C879.2 414.0 878.5 412.3 872.5 415.0C866.5 417.7 866.0 417.0 860.0 420.0C854.0 423.0 853.3 422.9 850.0 426.2C846.7 429.6 850.8 430.5 847.5 432.5C844.2 434.5 840.2 429.8 837.5 433.8C834.8 437.8 845.5 443.8 837.5 447.5C829.5 451.2 815.5 447.5 807.5 447.5M946.2 375.0C945.6 379.0 945.1 383.3 943.8 390.0C942.4 396.7 940.2 395.3 941.2 400.0C942.2 404.7 943.8 402.8 947.5 407.5C951.2 412.2 952.3 416.8 955.0 417.5C957.7 418.2 954.8 412.7 957.5 410.0C960.2 407.3 963.0 408.2 965.0 407.5M955.0 417.5C955.7 420.8 957.5 422.7 957.5 430.0C957.5 437.3 955.0 437.0 955.0 445.0C955.0 453.0 955.5 453.3 957.5 460.0C959.5 466.7 961.2 467.3 962.5 470.0M1052.5 417.5C1052.8 422.8 1052.8 423.5 1053.8 437.5C1054.8 451.5 1055.6 461.3 1056.2 470.0M1110.0 421.2C1111.3 424.2 1115.0 427.5 1115.0 432.5C1115.0 437.5 1113.3 440.0 1110.0 440.0C1106.7 440.0 1103.5 431.5 1102.5 432.5C1101.5 433.5 1103.6 439.1 1106.2 443.8C1108.9 448.4 1109.8 451.0 1112.5 450.0C1115.2 449.0 1114.2 445.3 1116.2 440.0C1118.2 434.7 1118.3 434.7 1120.0 430.0C1121.7 425.3 1122.5 428.5 1122.5 422.5C1122.5 416.5 1120.0 414.2 1120.0 407.5C1120.0 400.8 1122.5 402.8 1122.5 397.5C1122.5 392.2 1120.0 392.8 1120.0 387.5C1120.0 382.2 1121.8 380.2 1122.5 377.5M1122.5 397.5C1125.2 396.8 1127.8 394.3 1132.5 395.0C1137.2 395.7 1140.0 396.0 1140.0 400.0C1140.0 404.0 1136.5 406.7 1132.5 410.0C1128.5 413.3 1127.7 409.2 1125.0 412.5C1122.3 415.8 1123.2 419.8 1122.5 422.5M1140.0 400.0C1142.7 404.0 1144.0 408.3 1150.0 415.0C1156.0 421.7 1155.8 420.3 1162.5 425.0C1169.2 429.7 1171.7 430.5 1175.0 432.5M1142.5 397.5C1144.5 395.5 1146.0 396.0 1150.0 390.0C1154.0 384.0 1154.2 379.7 1157.5 375.0C1160.8 370.3 1161.2 373.2 1162.5 372.5M838.8 447.5C839.1 450.2 833.7 454.8 840.0 457.5C846.3 460.2 856.5 457.5 862.5 457.5M958.8 415.0C958.1 419.0 956.6 422.0 956.2 430.0C955.9 438.0 957.5 437.0 957.5 445.0C957.5 453.0 954.9 453.3 956.2 460.0C957.6 466.7 958.8 465.3 962.5 470.0C966.2 474.7 962.3 474.8 970.0 477.5C977.7 480.2 985.6 479.3 991.2 480.0M1052.5 417.5C1053.2 424.2 1054.0 429.2 1055.0 442.5C1056.0 455.8 1055.9 454.8 1056.2 467.5C1056.6 480.2 1056.2 484.0 1056.2 490.0M991.2 480.0C998.9 483.3 1007.0 487.2 1020.0 492.5C1033.0 497.8 1030.3 497.0 1040.0 500.0C1049.7 503.0 1051.9 506.4 1056.2 503.8C1060.6 501.1 1056.2 493.7 1056.2 490.0M1056.2 490.0C1061.2 489.7 1064.7 489.4 1075.0 488.8C1085.3 488.1 1085.0 488.2 1095.0 487.5C1105.0 486.8 1105.8 487.2 1112.5 486.2C1119.2 485.2 1116.7 486.8 1120.0 483.8C1123.3 480.8 1122.3 476.0 1125.0 475.0C1127.7 474.0 1127.3 476.7 1130.0 480.0C1132.7 483.3 1133.7 485.5 1135.0 487.5M1112.5 421.2C1112.2 423.6 1110.6 424.3 1111.2 430.0C1111.9 435.7 1112.7 435.8 1115.0 442.5C1117.3 449.2 1117.3 448.3 1120.0 455.0C1122.7 461.7 1122.3 461.5 1125.0 467.5C1127.7 473.5 1127.3 472.2 1130.0 477.5C1132.7 482.8 1133.7 484.8 1135.0 487.5M1121.2 425.0C1122.6 428.3 1123.2 430.2 1126.2 437.5C1129.2 444.8 1129.5 445.2 1132.5 452.5C1135.5 459.8 1135.2 459.0 1137.5 465.0C1139.8 471.0 1140.6 470.3 1141.2 475.0C1141.9 479.7 1140.3 480.5 1140.0 482.5M1143.8 410.0C1148.1 412.0 1150.3 412.2 1160.0 417.5C1169.7 422.8 1170.0 424.0 1180.0 430.0C1190.0 436.0 1191.5 440.0 1197.5 440.0C1203.5 440.0 1198.5 430.7 1202.5 430.0C1206.5 429.3 1207.8 432.2 1212.5 437.5C1217.2 442.8 1218.7 444.7 1220.0 450.0C1221.3 455.3 1218.2 455.5 1217.5 457.5M1140.0 400.0C1141.0 402.7 1145.8 405.3 1143.8 410.0C1141.8 414.7 1134.8 412.8 1132.5 417.5C1130.2 422.2 1136.7 422.2 1135.0 427.5C1133.3 432.8 1128.6 434.8 1126.2 437.5M1140.0 400.0C1142.7 397.3 1146.0 395.3 1150.0 390.0C1154.0 384.7 1153.7 382.7 1155.0 380.0M1180.0 380.0C1180.7 383.3 1179.8 385.8 1182.5 392.5C1185.2 399.2 1185.3 398.3 1190.0 405.0C1194.7 411.7 1196.7 410.8 1200.0 417.5C1203.3 424.2 1201.8 426.7 1202.5 430.0M1217.5 457.5C1221.5 456.8 1224.5 457.0 1232.5 455.0C1240.5 453.0 1240.8 450.7 1247.5 450.0C1254.2 449.3 1252.2 449.2 1257.5 452.5C1262.8 455.8 1261.5 459.2 1267.5 462.5C1273.5 465.8 1273.3 464.7 1280.0 465.0C1286.7 465.3 1289.2 464.1 1292.5 463.8M1220.0 461.2C1224.0 461.9 1227.7 462.4 1235.0 463.8C1242.3 465.1 1243.5 467.6 1247.5 466.2C1251.5 464.9 1247.7 460.4 1250.0 458.8C1252.3 457.1 1254.9 457.7 1256.2 460.0C1257.6 462.3 1252.0 464.2 1255.0 467.5C1258.0 470.8 1264.2 471.2 1267.5 472.5M1275.0 380.0C1275.7 384.0 1276.2 387.0 1277.5 395.0C1278.8 403.0 1277.3 403.3 1280.0 410.0C1282.7 416.7 1286.2 414.7 1287.5 420.0C1288.8 425.3 1284.3 426.0 1285.0 430.0C1285.7 434.0 1286.7 431.0 1290.0 435.0C1293.3 439.0 1294.8 440.3 1297.5 445.0C1300.2 449.7 1301.3 449.2 1300.0 452.5C1298.7 455.8 1294.5 454.5 1292.5 457.5C1290.5 460.5 1287.8 461.8 1292.5 463.8C1297.2 465.8 1301.3 464.0 1310.0 465.0C1318.7 466.0 1318.3 465.2 1325.0 467.5C1331.7 469.8 1329.0 472.8 1335.0 473.8C1341.0 474.8 1344.2 471.9 1347.5 471.2M1335.0 473.8C1336.3 475.4 1336.7 475.7 1340.0 480.0C1343.3 484.3 1345.5 487.3 1347.5 490.0M1287.5 432.5C1292.2 432.8 1296.3 434.4 1305.0 433.8C1313.7 433.1 1313.3 433.7 1320.0 430.0C1326.7 426.3 1326.0 426.0 1330.0 420.0C1334.0 414.0 1334.3 414.2 1335.0 407.5C1335.7 400.8 1330.5 400.3 1332.5 395.0C1334.5 389.7 1339.2 391.5 1342.5 387.5C1345.8 383.5 1344.3 382.0 1345.0 380.0M1342.5 447.5C1343.2 450.2 1343.0 454.2 1345.0 457.5C1347.0 460.8 1348.7 459.3 1350.0 460.0M970.0 477.5C964.7 480.8 960.0 482.7 950.0 490.0C940.0 497.3 940.5 499.7 932.5 505.0C924.5 510.3 924.7 509.0 920.0 510.0C915.3 511.0 916.3 509.1 915.0 508.8M991.2 480.0C992.9 484.7 996.2 488.2 997.5 497.5C998.8 506.8 996.9 506.3 996.2 515.0C995.6 523.7 997.3 523.3 995.0 530.0C992.7 536.7 990.8 534.7 987.5 540.0C984.2 545.3 983.2 546.0 982.5 550.0C981.8 554.0 984.3 553.7 985.0 555.0M985.0 555.0C981.7 554.3 979.8 551.8 972.5 552.5C965.2 553.2 964.2 557.5 957.5 557.5C950.8 557.5 954.2 554.5 947.5 552.5C940.8 550.5 939.2 550.0 932.5 550.0C925.8 550.0 926.5 549.8 922.5 552.5C918.5 555.2 919.5 553.3 917.5 560.0C915.5 566.7 917.0 568.8 915.0 577.5C913.0 586.2 912.0 585.2 910.0 592.5C908.0 599.8 908.2 601.7 907.5 605.0M920.0 510.0C920.7 512.7 922.8 514.7 922.5 520.0C922.2 525.3 921.4 524.7 918.8 530.0C916.1 535.3 916.2 536.0 912.5 540.0C908.8 544.0 908.3 544.3 905.0 545.0C901.7 545.7 901.3 543.2 900.0 542.5M985.0 555.0C986.3 557.7 988.0 559.0 990.0 565.0C992.0 571.0 993.8 572.2 992.5 577.5C991.2 582.8 989.7 580.3 985.0 585.0C980.3 589.7 979.7 590.3 975.0 595.0C970.3 599.7 972.2 599.8 967.5 602.5C962.8 605.2 961.5 601.7 957.5 605.0C953.5 608.3 955.2 611.0 952.5 615.0C949.8 619.0 948.8 618.7 947.5 620.0M1056.2 503.8C1053.9 508.1 1049.8 511.7 1047.5 520.0C1045.2 528.3 1049.5 528.3 1047.5 535.0C1045.5 541.7 1042.3 538.3 1040.0 545.0C1037.7 551.7 1038.1 553.3 1038.8 560.0C1039.4 566.7 1041.5 567.3 1042.5 570.0M1042.5 570.0C1039.2 572.0 1036.7 573.5 1030.0 577.5C1023.3 581.5 1024.2 581.0 1017.5 585.0C1010.8 589.0 1010.3 589.8 1005.0 592.5C999.7 595.2 1000.2 596.3 997.5 595.0C994.8 593.7 996.3 592.2 995.0 587.5C993.7 582.8 993.2 580.2 992.5 577.5M997.5 595.0C996.2 597.7 994.5 599.0 992.5 605.0C990.5 611.0 988.0 611.5 990.0 617.5C992.0 623.5 994.0 626.2 1000.0 627.5C1006.0 628.8 1006.5 625.8 1012.5 622.5C1018.5 619.2 1016.5 616.3 1022.5 615.0C1028.5 613.7 1028.3 618.2 1035.0 617.5C1041.7 616.8 1040.8 615.8 1047.5 612.5C1054.2 609.2 1056.7 607.0 1060.0 605.0M1042.5 570.0C1044.5 574.0 1045.3 579.0 1050.0 585.0C1054.7 591.0 1054.7 587.2 1060.0 592.5C1065.3 597.8 1066.0 599.7 1070.0 605.0C1074.0 610.3 1072.3 607.8 1075.0 612.5C1077.7 617.2 1078.7 619.8 1080.0 622.5M952.5 615.0C951.8 619.0 948.0 624.7 950.0 630.0C952.0 635.3 953.3 633.0 960.0 635.0C966.7 637.0 967.0 637.5 975.0 637.5C983.0 637.5 986.0 640.3 990.0 635.0C994.0 629.7 990.0 622.2 990.0 617.5M975.0 637.5C976.3 639.5 978.0 641.7 980.0 645.0C982.0 648.3 981.8 648.7 982.5 650.0M1000.0 627.5C1000.7 630.8 999.8 634.0 1002.5 640.0C1005.2 646.0 1008.0 647.3 1010.0 650.0M952.5 640.0C952.2 644.0 949.9 647.7 951.2 655.0C952.6 662.3 953.2 660.8 957.5 667.5C961.8 674.2 963.5 674.0 967.5 680.0C971.5 686.0 971.2 684.7 972.5 690.0C973.8 695.3 971.2 694.0 972.5 700.0C973.8 706.0 974.8 705.8 977.5 712.5C980.2 719.2 980.8 717.7 982.5 725.0C984.2 732.3 985.1 732.7 983.8 740.0C982.4 747.3 980.5 745.8 977.5 752.5C974.5 759.2 974.5 758.3 972.5 765.0C970.5 771.7 970.7 770.8 970.0 777.5C969.3 784.2 968.7 782.7 970.0 790.0C971.3 797.3 971.0 797.7 975.0 805.0C979.0 812.3 981.3 810.8 985.0 817.5C988.7 824.2 987.4 822.7 988.8 830.0C990.1 837.3 988.3 837.0 990.0 845.0C991.7 853.0 992.0 853.3 995.0 860.0C998.0 866.7 998.9 864.7 1001.2 870.0C1003.6 875.3 1001.4 874.0 1003.8 880.0C1006.1 886.0 1008.0 886.5 1010.0 892.5C1012.0 898.5 1011.2 897.8 1011.2 902.5C1011.2 907.2 1010.3 908.0 1010.0 910.0M1035.0 908.8C1039.0 907.8 1042.0 907.3 1050.0 905.0C1058.0 902.7 1057.0 904.0 1065.0 900.0C1073.0 896.0 1072.7 896.0 1080.0 890.0C1087.3 884.0 1087.2 884.2 1092.5 877.5C1097.8 870.8 1097.3 870.3 1100.0 865.0C1102.7 859.7 1102.5 861.5 1102.5 857.5C1102.5 853.5 1099.3 853.7 1100.0 850.0C1100.7 846.3 1101.0 846.4 1105.0 843.8C1109.0 841.1 1111.0 843.7 1115.0 840.0C1119.0 836.3 1118.0 835.3 1120.0 830.0C1122.0 824.7 1122.5 825.3 1122.5 820.0C1122.5 814.7 1120.0 815.3 1120.0 810.0C1120.0 804.7 1119.2 806.0 1122.5 800.0C1125.8 794.0 1126.5 793.5 1132.5 787.5C1138.5 781.5 1139.0 782.8 1145.0 777.5C1151.0 772.2 1151.3 773.5 1155.0 767.5C1158.7 761.5 1158.1 762.3 1158.8 755.0C1159.4 747.7 1157.5 745.3 1157.5 740.0C1157.5 734.7 1159.8 739.0 1158.8 735.0C1157.8 731.0 1155.4 731.0 1153.8 725.0C1152.1 719.0 1152.8 715.8 1152.5 712.5M982.5 640.0C983.8 642.0 986.5 642.2 987.5 647.5C988.5 652.8 987.6 654.0 986.2 660.0C984.9 666.0 985.5 668.0 982.5 670.0C979.5 672.0 978.3 666.8 975.0 667.5C971.7 668.2 971.3 668.8 970.0 672.5C968.7 676.2 970.0 678.9 970.0 681.2M1010.0 640.0C1010.3 643.3 1012.6 645.8 1011.2 652.5C1009.9 659.2 1008.3 658.3 1005.0 665.0C1001.7 671.7 1002.1 671.8 998.8 677.5C995.4 683.2 996.8 683.6 992.5 686.2C988.2 688.9 987.8 687.5 982.5 687.5C977.2 687.5 975.2 686.6 972.5 686.2M972.5 698.8C975.8 698.5 977.7 698.0 985.0 698.0C992.3 698.0 994.7 695.5 1000.0 698.8C1005.3 702.0 1000.3 706.3 1005.0 710.0C1009.7 713.7 1012.8 713.2 1017.5 712.5C1022.2 711.8 1017.8 708.5 1022.5 707.5C1027.2 706.5 1031.0 704.8 1035.0 708.8C1039.0 712.8 1036.5 715.5 1037.5 722.5C1038.5 729.5 1035.4 731.3 1038.8 735.0C1042.1 738.7 1047.0 735.9 1050.0 736.2M1050.0 736.2C1049.3 739.9 1050.8 745.7 1047.5 750.0C1044.2 754.3 1040.5 747.2 1037.5 752.5C1034.5 757.8 1035.6 762.0 1036.2 770.0C1036.9 778.0 1038.0 778.5 1040.0 782.5C1042.0 786.5 1042.8 784.3 1043.8 785.0M970.0 783.8C972.7 783.4 972.0 782.2 980.0 782.5C988.0 782.8 989.3 784.3 1000.0 785.0C1010.7 785.7 1008.3 785.0 1020.0 785.0C1031.7 785.0 1037.4 785.0 1043.8 785.0M1050.0 736.2C1052.7 737.2 1054.0 738.3 1060.0 740.0C1066.0 741.7 1067.2 739.8 1072.5 742.5C1077.8 745.2 1076.3 747.3 1080.0 750.0C1083.7 752.7 1084.6 753.8 1086.2 752.5C1087.9 751.2 1087.9 749.0 1086.2 745.0C1084.6 741.0 1082.0 742.8 1080.0 737.5C1078.0 732.2 1077.4 730.3 1078.8 725.0C1080.1 719.7 1080.7 719.8 1085.0 717.5C1089.3 715.2 1089.0 714.9 1095.0 716.2C1101.0 717.6 1102.8 717.5 1107.5 722.5C1112.2 727.5 1111.8 727.7 1112.5 735.0C1113.2 742.3 1111.3 743.3 1110.0 750.0C1108.7 756.7 1111.5 756.0 1107.5 760.0C1103.5 764.0 1100.3 761.7 1095.0 765.0C1089.7 768.3 1092.8 767.8 1087.5 772.5C1082.2 777.2 1081.7 778.2 1075.0 782.5C1068.3 786.8 1068.5 787.4 1062.5 788.8C1056.5 790.1 1057.5 788.5 1052.5 787.5C1047.5 786.5 1046.1 785.7 1043.8 785.0M1052.5 787.5C1049.2 788.2 1045.7 788.3 1040.0 790.0C1034.3 791.7 1033.9 787.1 1031.2 793.8C1028.6 800.4 1032.0 808.0 1030.0 815.0C1028.0 822.0 1025.8 811.3 1023.8 820.0C1021.8 828.7 1022.5 836.8 1022.5 847.5C1022.5 858.2 1025.8 854.7 1023.8 860.0C1021.8 865.3 1020.0 865.5 1015.0 867.5C1010.0 869.5 1008.7 866.8 1005.0 867.5C1001.3 868.2 1002.2 869.3 1001.2 870.0M1052.5 787.5C1054.5 789.5 1056.0 789.7 1060.0 795.0C1064.0 800.3 1063.5 801.5 1067.5 807.5C1071.5 813.5 1071.0 814.2 1075.0 817.5C1079.0 820.8 1083.2 816.7 1082.5 820.0C1081.8 823.3 1077.2 824.7 1072.5 830.0C1067.8 835.3 1070.3 836.0 1065.0 840.0C1059.7 844.0 1058.8 843.7 1052.5 845.0C1046.2 846.3 1045.2 842.3 1041.2 845.0C1037.2 847.7 1040.8 852.7 1037.5 855.0C1034.2 857.3 1032.1 857.1 1028.8 853.8C1025.4 850.4 1026.0 845.5 1025.0 842.5M1087.5 772.5C1090.8 773.2 1094.7 772.3 1100.0 775.0C1105.3 777.7 1105.2 775.8 1107.5 782.5C1109.8 789.2 1110.1 792.0 1108.8 800.0C1107.4 808.0 1105.5 806.8 1102.5 812.5C1099.5 818.2 1102.8 819.2 1097.5 821.2C1092.2 823.2 1086.5 820.3 1082.5 820.0M1097.5 821.2C1097.8 824.9 1098.1 827.3 1098.8 835.0C1099.4 842.7 1099.7 846.0 1100.0 850.0M1112.5 735.0C1113.2 732.7 1113.0 726.9 1115.0 726.2C1117.0 725.6 1118.3 728.8 1120.0 732.5C1121.7 736.2 1117.2 737.3 1121.2 740.0C1125.2 742.7 1128.0 742.8 1135.0 742.5C1142.0 742.2 1141.5 740.8 1147.5 738.8C1153.5 736.8 1154.8 736.0 1157.5 735.0M1110.0 750.0C1110.7 752.7 1110.5 755.3 1112.5 760.0C1114.5 764.7 1115.5 762.5 1117.5 767.5C1119.5 772.5 1118.0 776.4 1120.0 778.8C1122.0 781.1 1123.3 779.2 1125.0 776.2C1126.7 773.2 1126.6 772.5 1126.2 767.5C1125.9 762.5 1125.4 762.8 1123.8 757.5C1122.1 752.2 1120.7 752.2 1120.0 747.5C1119.3 742.8 1120.9 742.0 1121.2 740.0M1087.5 665.0C1086.8 667.7 1085.0 670.3 1085.0 675.0C1085.0 679.7 1087.2 677.2 1087.5 682.5C1087.8 687.8 1085.6 688.3 1086.2 695.0C1086.9 701.7 1087.7 701.8 1090.0 707.5C1092.3 713.2 1093.7 713.9 1095.0 716.2M1092.5 662.5C1093.8 663.8 1096.8 663.5 1097.5 667.5C1098.2 671.5 1097.0 672.8 1095.0 677.5C1093.0 682.2 1091.3 683.0 1090.0 685.0M1067.5 873.8C1069.8 870.4 1071.3 869.1 1075.0 868.8C1078.7 868.4 1079.9 869.5 1081.2 872.5C1082.6 875.5 1082.3 877.0 1080.0 880.0C1077.7 883.0 1076.2 883.4 1072.5 883.8C1068.8 884.1 1067.6 883.9 1066.2 881.2C1064.9 878.6 1065.2 877.1 1067.5 873.8M1217.5 745.0C1220.2 745.0 1220.8 747.2 1222.5 752.5C1224.2 757.8 1224.4 757.7 1223.8 765.0C1223.1 772.3 1222.3 772.0 1220.0 780.0C1217.7 788.0 1218.3 785.7 1215.0 795.0C1211.7 804.3 1211.5 805.0 1207.5 815.0C1203.5 825.0 1204.7 824.5 1200.0 832.5C1195.3 840.5 1194.7 841.3 1190.0 845.0C1185.3 848.7 1186.5 848.2 1182.5 846.2C1178.5 844.2 1177.3 843.8 1175.0 837.5C1172.7 831.2 1172.8 830.5 1173.8 822.5C1174.8 814.5 1176.8 816.2 1178.8 807.5C1180.8 798.8 1179.6 798.0 1181.2 790.0C1182.9 782.0 1181.3 782.8 1185.0 777.5C1188.7 772.2 1189.7 774.0 1195.0 770.0C1200.3 766.0 1200.3 767.2 1205.0 762.5C1209.7 757.8 1209.2 757.2 1212.5 752.5C1215.8 747.8 1214.8 745.0 1217.5 745.0M1300.0 121.2C1302.0 119.6 1302.2 118.0 1307.5 115.0C1312.8 112.0 1312.7 112.0 1320.0 110.0C1327.3 108.0 1327.0 108.8 1335.0 107.5C1343.0 106.2 1344.0 107.0 1350.0 105.0C1356.0 103.0 1352.2 101.0 1357.5 100.0C1362.8 99.0 1362.7 99.9 1370.0 101.2C1377.3 102.6 1377.0 103.7 1385.0 105.0C1393.0 106.3 1392.7 105.6 1400.0 106.2C1407.3 106.9 1408.5 105.5 1412.5 107.5C1416.5 109.5 1417.0 110.8 1415.0 113.8C1413.0 116.8 1408.3 116.4 1405.0 118.8C1401.7 121.1 1401.2 121.2 1402.5 122.5C1403.8 123.8 1405.3 124.1 1410.0 123.8C1414.7 123.4 1413.3 121.6 1420.0 121.2C1426.7 120.9 1427.0 122.2 1435.0 122.5C1443.0 122.8 1442.0 121.5 1450.0 122.5C1458.0 123.5 1458.3 124.9 1465.0 126.2C1471.7 127.6 1471.7 128.8 1475.0 127.5C1478.3 126.2 1473.5 122.2 1477.5 121.2C1481.5 120.2 1484.0 122.1 1490.0 123.8C1496.0 125.4 1494.7 125.2 1500.0 127.5C1505.3 129.8 1504.7 129.8 1510.0 132.5C1515.3 135.2 1515.0 135.5 1520.0 137.5C1525.0 139.5 1526.1 140.7 1528.8 140.0C1531.4 139.3 1527.0 136.3 1530.0 135.0C1533.0 133.7 1534.7 135.3 1540.0 135.0C1545.3 134.7 1544.7 134.4 1550.0 133.8C1555.3 133.1 1556.0 133.8 1560.0 132.5C1564.0 131.2 1561.0 129.4 1565.0 128.8C1569.0 128.1 1568.3 129.0 1575.0 130.0C1581.7 131.0 1581.3 131.2 1590.0 132.5C1598.7 133.8 1602.8 134.3 1607.5 135.0M1300.0 250.0C1302.7 250.7 1305.3 251.2 1310.0 252.5C1314.7 253.8 1312.8 255.7 1317.5 255.0C1322.2 254.3 1322.2 249.3 1327.5 250.0C1332.8 250.7 1331.8 252.5 1337.5 257.5C1343.2 262.5 1345.8 265.8 1348.8 268.8M1600.0 131.7C1602.7 132.1 1603.8 131.6 1610.0 133.3C1616.2 135.1 1615.3 136.6 1623.3 138.3C1631.3 140.0 1631.6 139.6 1640.0 139.7C1648.4 139.8 1647.9 138.7 1655.0 138.7C1662.1 138.7 1661.3 138.0 1666.7 139.7C1672.0 141.4 1669.7 143.4 1675.0 145.0C1680.3 146.6 1680.0 145.4 1686.7 145.8C1693.3 146.3 1692.9 146.3 1700.0 146.7C1707.1 147.0 1707.1 146.1 1713.3 147.2C1719.6 148.3 1718.9 149.1 1723.3 150.8C1727.8 152.6 1727.6 153.4 1730.0 153.7C1732.4 154.0 1732.9 153.4 1732.5 152.0C1732.1 150.6 1729.9 150.3 1728.3 148.3C1726.8 146.4 1725.3 145.8 1726.7 144.7C1728.0 143.6 1728.0 143.6 1733.3 144.2C1738.7 144.7 1739.6 145.8 1746.7 146.7C1753.8 147.6 1752.9 146.4 1760.0 147.5C1767.1 148.6 1766.2 149.2 1773.3 150.8C1780.4 152.5 1779.6 152.1 1786.7 153.7C1793.8 155.2 1792.9 154.8 1800.0 156.7C1807.1 158.6 1806.2 158.6 1813.3 160.8C1820.4 163.1 1819.6 163.2 1826.7 165.0C1833.8 166.8 1833.8 165.9 1840.0 167.5C1846.2 169.1 1846.4 168.6 1850.0 170.8C1853.6 173.1 1852.9 173.4 1853.3 175.8C1853.8 178.3 1853.9 178.9 1851.7 180.0C1849.4 181.1 1849.0 180.7 1845.0 180.0C1841.0 179.3 1841.6 178.8 1836.7 177.5C1831.8 176.2 1832.0 176.2 1826.7 175.0C1821.3 173.8 1821.1 172.3 1816.7 173.0C1812.2 173.7 1811.8 175.2 1810.0 177.5C1808.2 179.8 1807.8 179.9 1810.0 181.7C1812.2 183.4 1813.9 182.8 1818.3 184.2C1822.8 185.5 1822.9 184.9 1826.7 186.7C1830.4 188.4 1831.4 188.6 1832.5 190.8C1833.6 193.1 1833.7 193.9 1830.8 195.0C1827.9 196.1 1826.3 194.1 1821.7 195.0C1817.0 195.9 1817.3 195.9 1813.3 198.3C1809.3 200.8 1810.2 201.3 1806.7 204.2C1803.1 207.1 1803.6 208.1 1800.0 209.2C1796.4 210.3 1796.4 208.1 1793.3 208.3C1790.2 208.6 1790.6 208.9 1788.3 210.0C1786.1 211.1 1787.2 212.7 1785.0 212.5C1782.8 212.3 1783.1 209.4 1780.0 209.2C1776.9 208.9 1775.3 209.7 1773.3 211.7C1771.3 213.7 1772.1 213.6 1772.5 216.7C1772.9 219.8 1774.3 221.6 1775.0 223.3M1660.0 223.3C1661.8 221.8 1662.7 219.7 1666.7 217.5C1670.7 215.3 1669.7 215.8 1675.0 215.0C1680.3 214.2 1680.4 215.0 1686.7 214.7C1692.9 214.3 1693.0 212.9 1698.3 213.7C1703.7 214.4 1701.8 216.2 1706.7 217.5C1711.6 218.8 1711.8 218.9 1716.7 218.7C1721.6 218.4 1722.1 218.1 1725.0 216.7C1727.9 215.2 1727.9 215.6 1727.5 213.3C1727.1 211.1 1724.7 211.0 1723.3 208.3C1722.0 205.7 1721.6 205.8 1722.5 203.3C1723.4 200.9 1723.8 200.7 1726.7 199.2C1729.6 197.6 1729.3 197.1 1733.3 197.5C1737.3 197.9 1737.7 198.6 1741.7 200.8C1745.7 203.1 1745.2 205.2 1748.3 205.8C1751.4 206.5 1751.6 205.3 1753.3 203.3C1755.1 201.3 1755.2 201.4 1755.0 198.3C1754.8 195.2 1752.3 193.2 1752.5 191.7C1752.7 190.1 1754.3 190.7 1755.8 192.5C1757.4 194.3 1756.6 195.0 1758.3 198.3C1760.1 201.7 1762.1 201.9 1762.5 205.0C1762.9 208.1 1761.6 207.3 1760.0 210.0C1758.4 212.7 1756.9 212.3 1756.7 215.0C1756.4 217.7 1758.5 217.8 1759.2 220.0C1759.8 222.2 1759.2 222.4 1759.2 223.3M1010.0 910.0C1010.8 911.1 1010.6 912.4 1013.0 914.0C1015.4 915.6 1015.3 916.0 1019.0 916.0C1022.7 916.0 1022.7 915.9 1027.0 914.0C1031.3 912.1 1032.9 910.1 1035.0 908.8M104.0 140.0C106.1 136.8 106.4 132.8 112.0 128.0C117.6 123.2 117.5 124.7 125.0 122.0C132.5 119.3 130.7 118.5 140.0 118.0C149.3 117.5 149.3 117.3 160.0 120.0C170.7 122.7 169.3 124.0 180.0 128.0C190.7 132.0 189.3 131.5 200.0 135.0C210.7 138.5 209.3 138.1 220.0 141.0C230.7 143.9 234.7 144.7 240.0 146.0M18.8 241.0C21.0 239.9 21.5 239.4 27.1 236.9C32.6 234.4 32.9 234.7 39.6 231.7C46.2 228.6 46.8 228.8 52.1 225.4C57.4 222.1 59.9 221.1 59.4 219.2C58.8 217.2 54.7 217.8 50.0 218.1C45.3 218.4 44.4 221.0 41.7 220.2C38.9 219.4 38.8 217.2 39.6 215.0C40.4 212.8 44.8 213.0 44.8 211.9C44.8 210.8 42.4 211.4 39.6 210.8C36.8 210.3 35.2 211.7 34.4 209.8C33.5 207.8 34.0 206.9 36.5 203.5C39.0 200.2 39.0 200.3 43.8 197.3C48.5 194.2 48.6 194.3 54.2 192.1C59.7 189.9 58.8 190.6 64.6 189.0C70.4 187.3 69.9 187.5 76.0 185.8C82.2 184.2 83.3 184.4 87.5 182.7C91.7 181.0 91.7 180.7 91.7 179.6C91.7 178.5 91.4 178.5 87.5 178.5C83.6 178.5 82.1 179.6 77.1 179.6C72.1 179.6 71.2 180.2 68.8 178.5C66.2 176.9 66.6 175.6 67.7 173.3C68.8 171.1 68.8 171.3 72.9 170.2C77.1 169.1 77.8 169.7 83.3 169.2C88.9 168.6 88.2 168.7 93.8 168.1C99.3 167.6 100.3 167.6 104.2 167.1C108.1 166.5 108.1 167.7 108.3 166.0C108.6 164.4 106.9 163.3 105.2 160.8C103.5 158.3 104.0 159.4 102.1 156.7C100.1 153.9 98.5 153.8 97.9 150.4C97.4 147.1 98.3 146.9 100.0 144.2C101.7 141.4 103.1 141.1 104.2 140.0M18.8 241.0C21.5 240.5 23.1 240.9 29.2 239.0C35.3 237.0 35.0 236.5 41.7 233.8C48.3 231.0 47.5 231.3 54.2 228.5C60.8 225.8 60.0 226.1 66.7 223.3C73.3 220.6 73.1 220.9 79.2 218.1C85.3 215.3 84.6 215.4 89.6 212.9C94.6 210.4 92.9 211.0 97.9 208.8C102.9 206.5 103.3 206.2 108.3 204.6C113.3 202.9 111.7 203.6 116.7 202.5C121.7 201.4 122.1 200.1 127.1 200.4C132.1 200.7 130.4 201.9 135.4 203.5C140.4 205.2 140.3 205.3 145.8 206.7C151.4 208.1 151.8 207.6 156.2 208.8C160.7 209.9 159.7 209.7 162.5 210.8C165.3 211.9 165.6 212.4 166.7 212.9M96.9 214.0C96.3 213.4 99.7 211.6 104.2 208.8C108.6 205.9 110.2 204.8 113.5 203.1C116.9 201.5 118.6 200.4 116.7 202.5C114.7 204.6 111.5 207.8 106.2 210.8C101.0 213.9 97.4 214.5 96.9 214.0M162.5 205.6C163.6 204.2 162.8 204.0 166.7 200.4C170.6 196.8 171.5 196.5 177.1 192.1C182.6 187.6 181.9 188.2 187.5 183.8C193.1 179.3 192.4 179.9 197.9 175.4C203.5 171.0 202.8 171.5 208.3 167.1C213.9 162.6 214.3 162.6 218.8 158.8C223.2 154.9 222.2 155.3 225.0 152.5C227.8 149.7 225.8 151.7 229.2 148.3C232.5 145.0 235.3 142.2 237.5 140.0M162.5 205.6C163.1 206.5 161.8 207.6 164.6 208.8C167.4 209.9 169.0 208.7 172.9 209.8C176.8 210.9 175.8 212.6 179.2 212.9C182.5 213.2 183.5 208.1 185.4 210.8C187.4 213.6 187.0 218.3 186.5 223.3C185.9 228.3 182.8 226.0 183.3 229.6C183.9 233.2 188.5 233.5 188.5 236.9C188.5 240.2 186.4 239.6 183.3 242.1C180.3 244.6 178.8 245.1 177.1 246.2M166.7 212.9C167.8 215.1 168.9 216.8 170.8 221.2C172.8 225.7 172.6 224.6 174.0 229.6C175.3 234.6 175.2 235.6 176.0 240.0C176.9 244.4 177.4 241.8 177.1 246.2C176.8 250.7 175.8 250.6 175.0 256.7C174.2 262.8 173.7 264.2 174.0 269.2C174.2 274.2 174.1 271.5 176.0 275.4C178.0 279.3 178.8 280.4 181.2 283.8C183.8 287.1 184.3 286.8 185.4 287.9M166.7 277.5C167.8 275.8 170.1 275.3 172.9 276.5C175.7 277.6 174.9 278.6 177.1 281.7C179.3 284.7 180.7 285.7 181.2 287.9C181.8 290.1 181.4 290.3 179.2 290.0C176.9 289.7 175.7 288.8 172.9 286.9C170.1 284.9 170.4 285.2 168.8 282.7C167.1 280.2 165.6 279.2 166.7 277.5M185.4 285.8C191.5 285.9 191.1 286.1 208.3 286.2C225.6 286.4 227.8 286.3 250.0 286.5C272.2 286.6 269.4 286.7 291.7 286.9C313.9 287.0 317.2 287.0 333.3 287.1C349.4 287.1 346.8 286.0 352.1 287.1C357.4 288.1 350.9 289.2 353.1 291.0C355.3 292.9 356.2 293.1 360.4 294.2C364.6 295.3 364.3 295.2 368.8 295.2C373.2 295.2 374.9 294.4 377.1 294.2M177.1 290.0C176.5 292.2 176.7 293.3 175.0 298.3C173.3 303.3 174.2 303.2 170.8 308.8C167.5 314.3 166.9 313.6 162.5 319.2C158.1 324.7 158.6 324.6 154.2 329.6C149.7 334.6 149.2 333.5 145.8 337.9C142.5 342.4 143.6 341.8 141.7 346.2C139.7 350.7 139.7 349.6 138.5 354.6C137.4 359.6 137.8 362.2 137.5 365.0M360.4 302.5C363.2 301.4 364.7 300.0 370.8 298.3C376.9 296.7 376.7 297.1 383.3 296.2C390.0 295.4 391.4 294.7 395.8 295.2C400.3 295.8 398.9 297.5 400.0 298.3M360.4 302.5C362.6 303.1 363.8 304.6 368.8 304.6C373.8 304.6 373.6 303.3 379.2 302.5C384.7 301.7 384.0 300.9 389.6 301.5C395.1 302.0 397.2 303.8 400.0 304.6M385.4 312.9C382.6 314.6 382.5 316.8 379.2 321.2C375.8 325.7 375.7 325.1 372.9 329.6C370.1 334.0 368.8 334.9 368.8 337.9C368.8 341.0 370.7 342.2 372.9 341.0C375.1 339.9 374.3 338.5 377.1 333.8C379.9 329.0 380.0 328.3 383.3 323.3C386.7 318.3 389.0 317.8 389.6 315.0C390.1 312.2 388.2 311.2 385.4 312.9M240.0 146.2C244.0 145.2 246.3 144.8 255.0 142.5C263.7 140.2 263.2 140.2 272.5 137.5C281.8 134.8 280.0 135.2 290.0 132.5C300.0 129.8 299.3 130.2 310.0 127.5C320.7 124.8 320.0 124.5 330.0 122.5C340.0 120.5 338.2 120.0 347.5 120.0C356.8 120.0 356.3 120.5 365.0 122.5C373.7 124.5 372.0 124.8 380.0 127.5C388.0 130.2 387.0 129.8 395.0 132.5C403.0 135.2 402.0 134.8 410.0 137.5C418.0 140.2 417.0 140.2 425.0 142.5C433.0 144.8 432.7 144.2 440.0 146.2C447.3 148.2 445.8 147.7 452.5 150.0C459.2 152.3 459.0 152.3 465.0 155.0C471.0 157.7 471.0 156.7 475.0 160.0C479.0 163.3 480.0 163.5 480.0 167.5C480.0 171.5 478.3 171.0 475.0 175.0C471.7 179.0 469.8 179.8 467.5 182.5C465.2 185.2 466.6 184.3 466.2 185.0M376.2 105.0C376.9 102.7 380.5 102.6 387.5 101.2C394.5 99.9 395.8 99.3 402.5 100.0C409.2 100.7 413.2 101.4 412.5 103.8C411.8 106.1 407.3 107.1 400.0 108.8C392.7 110.4 391.3 111.0 385.0 110.0C378.7 109.0 375.6 107.3 376.2 105.0M432.5 97.5C436.5 95.5 444.8 94.9 447.5 96.2C450.2 97.6 446.5 100.5 442.5 102.5C438.5 104.5 435.2 105.1 432.5 103.8C429.8 102.4 428.5 99.5 432.5 97.5M462.5 106.2C466.5 104.2 470.2 103.8 477.5 103.8C484.8 103.8 487.3 103.6 490.0 106.2C492.7 108.9 492.2 111.4 487.5 113.8C482.8 116.1 479.2 115.7 472.5 115.0C465.8 114.3 465.2 113.6 462.5 111.2C459.8 108.9 458.5 108.2 462.5 106.2M477.5 90.0C480.2 88.0 483.3 87.2 490.0 87.5C496.7 87.8 496.5 88.6 502.5 91.2C508.5 93.9 512.5 95.2 512.5 97.5C512.5 99.8 508.5 100.0 502.5 100.0C496.5 100.0 496.0 98.8 490.0 97.5C484.0 96.2 483.3 97.0 480.0 95.0C476.7 93.0 474.8 92.0 477.5 90.0M522.5 87.5C525.2 87.8 529.5 85.0 537.5 85.0C545.5 85.0 545.2 85.5 552.5 87.5C559.8 89.5 559.0 93.2 565.0 92.5C571.0 91.8 576.3 87.7 575.0 85.0C573.7 82.3 568.7 83.5 560.0 82.5C551.3 81.5 551.2 80.9 542.5 81.2C533.8 81.6 532.8 82.1 527.5 83.8C522.2 85.4 519.8 87.2 522.5 87.5M505.0 107.5C507.7 104.8 511.3 104.4 520.0 103.8C528.7 103.1 529.5 103.3 537.5 105.0C545.5 106.7 549.3 106.7 550.0 110.0C550.7 113.3 547.3 115.8 540.0 117.5C532.7 119.2 530.5 117.2 522.5 116.2C514.5 115.2 514.7 116.1 510.0 113.8C505.3 111.4 502.3 110.2 505.0 107.5M445.0 122.5C449.7 119.5 454.3 119.1 465.0 118.8C475.7 118.4 475.7 118.9 485.0 121.2C494.3 123.6 497.3 123.2 500.0 127.5C502.7 131.8 501.0 134.2 495.0 137.5C489.0 140.8 486.8 140.7 477.5 140.0C468.2 139.3 468.0 137.7 460.0 135.0C452.0 132.3 451.5 133.3 447.5 130.0C443.5 126.7 440.3 125.5 445.0 122.5M395.0 118.8C397.7 115.4 404.5 115.2 412.5 116.2C420.5 117.2 423.7 118.5 425.0 122.5C426.3 126.5 423.5 129.6 417.5 131.2C411.5 132.9 408.5 132.1 402.5 128.8C396.5 125.4 392.3 122.1 395.0 118.8M515.0 125.0C519.0 121.7 524.3 122.2 535.0 122.5C545.7 122.8 547.0 122.9 555.0 126.2C563.0 129.6 565.0 130.7 565.0 135.0C565.0 139.3 563.0 141.2 555.0 142.5C547.0 143.8 544.3 142.0 535.0 140.0C525.7 138.0 525.3 139.0 520.0 135.0C514.7 131.0 511.0 128.3 515.0 125.0M572.5 117.5C575.8 113.8 580.0 113.8 590.0 113.8C600.0 113.8 599.3 114.5 610.0 117.5C620.7 120.5 619.3 120.3 630.0 125.0C640.7 129.7 640.7 129.7 650.0 135.0C659.3 140.3 658.3 139.0 665.0 145.0C671.7 151.0 673.7 151.5 675.0 157.5C676.3 163.5 675.3 166.2 670.0 167.5C664.7 168.8 663.0 165.8 655.0 162.5C647.0 159.2 648.0 159.0 640.0 155.0C632.0 151.0 633.7 150.8 625.0 147.5C616.3 144.2 616.8 145.8 607.5 142.5C598.2 139.2 598.0 139.0 590.0 135.0C582.0 131.0 582.2 132.2 577.5 127.5C572.8 122.8 569.2 121.2 572.5 117.5M610.0 92.5C615.3 91.2 618.0 90.2 630.0 87.5C642.0 84.8 641.7 84.8 655.0 82.5C668.3 80.2 666.7 80.8 680.0 78.8C693.3 76.8 694.3 76.7 705.0 75.0C715.7 73.3 716.0 73.2 720.0 72.5M610.0 100.0C614.0 98.0 619.3 98.8 630.0 97.5C640.7 96.2 640.7 94.3 650.0 95.0C659.3 95.7 665.0 97.3 665.0 100.0C665.0 102.7 659.3 103.3 650.0 105.0C640.7 106.7 639.3 106.2 630.0 106.2C620.7 106.2 620.3 106.7 615.0 105.0C609.7 103.3 606.0 102.0 610.0 100.0M466.2 185.0C463.2 186.3 462.0 187.3 455.0 190.0C448.0 192.7 448.7 192.3 440.0 195.0C431.3 197.7 431.2 196.7 422.5 200.0C413.8 203.3 413.5 202.8 407.5 207.5C401.5 212.2 400.7 211.5 400.0 217.5C399.3 223.5 401.0 224.0 405.0 230.0C409.0 236.0 409.0 236.0 415.0 240.0C421.0 244.0 420.8 244.3 427.5 245.0C434.2 245.7 433.3 245.2 440.0 242.5C446.7 239.8 447.2 234.3 452.5 235.0C457.8 235.7 456.7 239.0 460.0 245.0C463.3 251.0 461.0 251.5 465.0 257.5C469.0 263.5 469.0 265.5 475.0 267.5C481.0 269.5 482.8 268.3 487.5 265.0C492.2 261.7 491.8 261.0 492.5 255.0C493.2 249.0 491.3 249.2 490.0 242.5C488.7 235.8 486.8 236.7 487.5 230.0C488.2 223.3 489.2 224.2 492.5 217.5C495.8 210.8 498.7 211.0 500.0 205.0C501.3 199.0 496.2 199.7 497.5 195.0C498.8 190.3 500.3 188.2 505.0 187.5C509.7 186.8 509.7 189.2 515.0 192.5C520.3 195.8 520.3 195.3 525.0 200.0C529.7 204.7 529.8 204.7 532.5 210.0C535.2 215.3 531.0 218.7 535.0 220.0C539.0 221.3 540.8 217.7 547.5 215.0C554.2 212.3 555.3 208.7 560.0 210.0C564.7 211.3 562.3 214.0 565.0 220.0C567.7 226.0 567.3 225.8 570.0 232.5C572.7 239.2 573.0 238.3 575.0 245.0C577.0 251.7 576.8 254.2 577.5 257.5M560.0 190.0C558.7 186.0 561.0 184.7 565.0 180.0C569.0 175.3 568.3 175.2 575.0 172.5C581.7 169.8 583.3 168.7 590.0 170.0C596.7 171.3 598.7 172.8 600.0 177.5C601.3 182.2 599.0 183.5 595.0 187.5C591.0 191.5 591.7 190.5 585.0 192.5C578.3 194.5 576.7 195.7 570.0 195.0C563.3 194.3 561.3 194.0 560.0 190.0M645.0 170.0C646.3 174.0 647.3 177.0 650.0 185.0C652.7 193.0 649.7 194.0 655.0 200.0C660.3 206.0 662.0 206.8 670.0 207.5C678.0 208.2 677.0 205.8 685.0 202.5C693.0 199.2 692.0 198.3 700.0 195.0C708.0 191.7 709.7 192.7 715.0 190.0C720.3 187.3 718.7 186.3 720.0 185.0M857.6 79.9C852.3 82.0 845.7 84.1 837.8 87.8C829.9 91.5 830.0 90.1 827.9 93.8C825.8 97.5 831.0 98.0 829.9 101.7C828.8 105.4 827.1 103.4 824.0 107.6C820.8 111.8 821.7 113.3 818.0 117.5C814.3 121.7 815.4 120.3 810.1 123.5C804.8 126.6 804.0 125.7 798.2 129.4C792.4 133.1 790.4 134.2 788.3 137.3C786.2 140.5 791.9 138.1 790.3 141.3C788.7 144.5 787.7 146.0 782.4 149.2C777.1 152.4 776.8 151.6 770.5 153.2C764.2 154.8 764.4 153.0 758.6 155.1C752.8 157.3 756.1 158.4 748.7 161.1C741.3 163.7 738.8 162.9 730.9 165.0C723.0 167.2 725.9 166.9 719.0 169.0C712.1 171.1 710.4 169.8 705.1 173.0C699.9 176.1 702.4 176.1 699.2 180.9C696.0 185.6 697.0 186.0 693.3 190.8C689.6 195.5 689.0 195.0 685.3 198.7C681.7 202.4 683.1 202.3 679.4 204.7C675.7 207.0 675.7 207.6 671.5 207.6C667.3 207.6 667.8 207.0 663.6 204.7C659.3 202.3 659.3 202.9 655.6 198.7C651.9 194.5 652.3 194.6 649.7 188.8C647.1 183.0 647.1 183.8 645.7 176.9C644.4 170.1 644.2 169.4 644.8 163.1C645.3 156.7 645.9 162.1 647.7 153.2C649.6 144.2 649.6 138.9 651.7 129.4C653.8 119.9 656.2 122.8 655.6 117.5C655.1 112.2 655.0 112.2 649.7 109.6C644.4 107.0 643.8 108.7 635.8 107.6C627.9 106.6 624.2 106.2 620.0 105.6M786.3 171.0C786.3 169.4 788.1 168.5 792.3 168.0C796.5 167.5 797.4 168.2 802.2 169.0C806.9 169.8 805.3 171.3 810.1 171.0C814.9 170.7 814.2 169.1 820.0 168.0C825.8 167.0 827.1 165.7 831.9 167.0C836.6 168.3 837.3 170.1 837.8 173.0C838.3 175.9 837.6 175.5 833.9 177.9C830.2 180.3 829.2 180.3 824.0 181.9C818.7 183.5 819.3 183.6 814.1 183.9C808.8 184.1 808.9 182.6 804.2 182.9C799.4 183.1 798.9 185.9 796.2 184.9C793.6 183.8 795.3 181.8 794.3 178.9C793.2 176.0 794.4 176.1 792.3 174.0C790.2 171.8 786.3 172.6 786.3 171.0M437.5 840.0C437.8 845.3 438.1 850.0 438.8 860.0C439.4 870.0 438.7 867.5 440.0 877.5C441.3 887.5 443.1 887.5 443.8 897.5C444.4 907.5 443.2 905.7 442.5 915.0C441.8 924.3 440.2 923.8 441.2 932.5C442.2 941.2 443.2 938.8 446.2 947.5C449.2 956.2 448.8 956.3 452.5 965.0C456.2 973.7 456.7 972.0 460.0 980.0C463.3 988.0 462.7 987.0 465.0 995.0C467.3 1003.0 466.1 1002.0 468.8 1010.0C471.4 1018.0 470.7 1017.0 475.0 1025.0C479.3 1033.0 479.7 1033.0 485.0 1040.0C490.3 1047.0 490.3 1048.6 495.0 1051.2C499.7 1053.9 498.5 1049.0 502.5 1050.0C506.5 1051.0 506.3 1052.0 510.0 1055.0C513.7 1058.0 513.6 1058.9 516.2 1061.2C518.9 1063.6 516.3 1063.4 520.0 1063.8C523.7 1064.1 524.7 1063.2 530.0 1062.5C535.3 1061.8 538.0 1062.2 540.0 1061.2C542.0 1060.2 540.8 1060.1 537.5 1058.8C534.2 1057.4 532.2 1057.9 527.5 1056.2C522.8 1054.6 523.3 1056.2 520.0 1052.5C516.7 1048.8 517.3 1045.5 515.0 1042.5C512.7 1039.5 512.2 1041.6 511.2 1041.2M452.5 840.0C452.2 844.7 452.6 848.2 451.2 857.5C449.9 866.8 447.8 866.3 447.5 875.0C447.2 883.7 447.7 881.3 450.0 890.0C452.3 898.7 455.2 898.2 456.2 907.5C457.2 916.8 453.1 916.3 453.8 925.0C454.4 933.7 458.1 933.3 458.8 940.0C459.4 946.7 455.2 942.0 456.2 950.0C457.2 958.0 458.8 960.0 462.5 970.0C466.2 980.0 466.3 978.2 470.0 987.5C473.7 996.8 474.2 996.3 476.2 1005.0C478.2 1013.7 474.5 1012.0 477.5 1020.0C480.5 1028.0 482.8 1029.3 487.5 1035.0C492.2 1040.7 488.7 1039.6 495.0 1041.2C501.3 1042.9 505.6 1038.2 511.2 1041.2C516.9 1044.2 513.9 1046.8 516.2 1052.5C518.6 1058.2 519.0 1059.8 520.0 1062.5M580.0 840.0C580.3 844.0 581.9 847.0 581.2 855.0C580.6 863.0 579.8 862.7 577.5 870.0C575.2 877.3 575.8 875.8 572.5 882.5C569.2 889.2 568.3 888.3 565.0 895.0C561.7 901.7 562.7 902.5 560.0 907.5C557.3 912.5 559.7 911.8 555.0 913.8C550.3 915.8 548.5 915.7 542.5 915.0C536.5 914.3 533.2 909.9 532.5 911.2C531.8 912.6 537.3 914.3 540.0 920.0C542.7 925.7 543.2 926.5 542.5 932.5C541.8 938.5 542.2 939.5 537.5 942.5C532.8 945.5 531.0 942.4 525.0 943.8C519.0 945.1 518.0 944.5 515.0 947.5C512.0 950.5 515.1 951.3 513.8 955.0C512.4 958.7 513.3 959.2 510.0 961.2C506.7 963.2 503.2 960.5 501.2 962.5C499.2 964.5 499.2 966.8 502.5 968.8C505.8 970.8 512.1 968.0 513.8 970.0C515.4 972.0 510.4 971.6 508.8 976.2C507.1 980.9 509.5 982.5 507.5 987.5C505.5 992.5 502.2 990.3 501.2 995.0C500.2 999.7 500.8 1000.3 503.8 1005.0C506.8 1009.7 510.8 1007.8 512.5 1012.5C514.2 1017.2 512.0 1017.2 510.0 1022.5C508.0 1027.8 506.0 1027.5 505.0 1032.5C504.0 1037.5 505.9 1038.9 506.2 1041.2M530.0 882.5C533.3 883.8 536.5 884.5 542.5 887.5C548.5 890.5 548.2 889.8 552.5 893.8C556.8 897.8 557.4 897.5 558.8 902.5C560.1 907.5 557.8 909.8 557.5 912.5M532.5 911.2C530.8 909.6 527.9 909.3 526.2 905.0C524.6 900.7 525.2 901.0 526.2 895.0C527.2 889.0 528.3 889.2 530.0 882.5C531.7 875.8 529.8 876.0 532.5 870.0C535.2 864.0 536.0 864.7 540.0 860.0C544.0 855.3 546.8 857.8 547.5 852.5C548.2 847.2 543.8 843.3 542.5 840.0M523.8 850.0C522.8 851.3 518.3 852.7 520.0 855.0C521.7 857.3 524.7 858.8 530.0 858.8C535.3 858.8 537.3 856.0 540.0 855.0M552.5 1041.2C552.5 1038.2 553.2 1037.8 556.2 1036.2C559.2 1034.7 562.4 1034.5 563.8 1035.5C565.1 1036.5 561.6 1037.1 561.2 1040.0C560.9 1042.9 563.8 1044.2 562.5 1046.2C561.2 1048.2 558.9 1048.8 556.2 1047.5C553.6 1046.2 552.5 1044.2 552.5 1041.2M568.8 1043.8C568.4 1041.4 569.2 1038.8 572.5 1037.5C575.8 1036.2 580.2 1037.4 581.2 1038.8C582.2 1040.1 578.2 1040.5 576.2 1042.5C574.2 1044.5 575.8 1045.9 573.8 1046.2C571.8 1046.6 569.1 1046.1 568.8 1043.8M323.0 562.7C325.1 565.5 326.0 567.7 331.0 573.4C336.0 579.1 334.6 580.6 341.7 584.2C348.9 587.7 350.0 586.5 357.9 586.8C365.7 587.2 365.5 584.1 371.3 585.5C377.0 586.9 376.8 587.6 379.3 592.2C381.8 596.9 380.0 596.5 380.7 603.0C381.4 609.4 382.0 611.4 382.0 616.4C382.0 621.4 383.5 616.0 380.7 621.7C377.8 627.5 376.6 630.7 371.3 637.9C365.9 645.0 363.4 643.6 360.5 648.6C357.7 653.6 360.5 654.5 360.5 656.6M379.3 592.2C382.9 588.6 385.6 584.5 392.8 578.8C399.9 573.1 399.0 574.3 406.2 570.7C413.3 567.2 413.2 567.5 419.6 565.4C426.0 563.2 424.6 561.3 430.3 562.7C436.1 564.1 432.5 567.2 441.1 570.7C449.7 574.3 452.5 575.0 462.6 576.1C472.6 577.2 471.5 574.8 478.7 574.8C485.8 574.8 485.8 572.9 489.4 576.1C493.0 579.3 488.5 581.8 492.1 586.8C495.7 591.9 497.8 589.9 502.8 594.9C507.8 599.9 505.9 601.7 510.9 605.6C515.9 609.6 515.2 608.2 521.6 609.7C528.1 611.1 528.6 608.5 535.0 611.0C541.5 613.5 540.8 614.0 545.8 619.1C550.8 624.1 550.2 623.4 553.8 629.8C557.4 636.2 554.9 636.1 559.2 643.2C563.5 650.4 562.8 650.9 569.9 656.6C577.1 662.4 577.4 660.8 586.0 664.7C594.6 668.6 597.9 669.6 602.1 671.4M411.5 576.1C411.2 579.7 408.1 583.1 410.2 589.5C412.3 596.0 412.8 596.0 419.6 600.3C426.4 604.6 429.3 602.1 435.7 605.6C442.1 609.2 441.3 608.0 443.8 613.7C446.3 619.4 445.8 620.7 445.1 627.1C444.4 633.6 445.0 633.6 441.1 637.9C437.1 642.1 433.9 638.9 430.3 643.2C426.8 647.5 428.4 651.1 427.7 654.0M443.8 627.1C445.9 632.1 446.8 640.9 451.8 645.9C456.8 650.9 458.3 648.8 462.6 645.9C466.8 643.0 463.6 640.9 467.9 635.2C472.2 629.4 472.2 628.0 478.7 624.4C485.1 620.9 487.8 626.0 492.1 621.7C496.4 617.4 494.8 615.5 494.8 608.3C494.8 601.2 492.8 598.5 492.1 594.9M494.8 621.7C496.2 626.8 495.8 636.2 500.1 640.5C504.4 644.8 506.6 640.7 510.9 637.9C515.2 635.0 515.5 637.0 516.2 629.8C517.0 622.6 514.3 616.0 513.6 611.0M532.3 612.3C532.0 616.3 530.3 620.3 531.0 627.1C531.7 633.9 531.1 635.7 535.0 637.9C539.0 640.0 541.8 638.7 545.8 635.2C549.7 631.6 548.7 627.3 549.8 624.4M451.8 726.4C454.7 729.3 455.4 731.5 462.6 737.2C469.7 742.9 470.8 742.2 478.7 747.9C486.5 753.6 486.4 751.5 492.1 758.7C497.8 765.8 495.1 767.6 500.1 774.8C505.1 781.9 506.6 778.3 510.9 785.5C515.2 792.7 514.1 793.0 516.2 801.6C518.4 810.2 515.3 810.6 518.9 817.7C522.5 824.9 523.9 822.7 529.7 828.5C535.4 834.2 536.5 833.5 540.4 839.2C544.3 844.9 543.4 847.1 544.4 849.9M434.4 734.5C435.4 740.2 437.7 745.2 438.4 756.0C439.1 766.7 436.3 764.0 437.0 774.8C437.8 785.5 437.9 785.5 441.1 796.2C444.3 807.0 446.3 806.4 449.1 815.0C452.0 823.6 451.1 819.1 451.8 828.5C452.5 837.8 451.8 844.2 451.8 849.9M492.1 801.6C494.9 800.5 497.1 797.6 502.8 797.6C508.5 797.6 510.7 800.5 513.6 801.6M451.8 823.1C455.4 821.7 457.4 818.8 465.2 817.7C473.1 816.6 474.2 823.4 481.3 819.1C488.5 814.8 489.2 806.3 492.1 801.6M634.4 790.9C632.9 795.2 631.9 799.1 629.0 807.0C626.1 814.9 630.8 814.0 623.6 820.4C616.5 826.8 612.2 825.4 602.1 831.1C592.1 836.9 593.2 836.9 586.0 841.9C578.9 846.9 578.2 847.8 575.3 849.9M177.5 287.5C176.2 290.8 176.5 292.7 172.5 300.0C168.5 307.3 168.5 307.0 162.5 315.0C156.5 323.0 155.7 322.0 150.0 330.0C144.3 338.0 144.6 337.0 141.2 345.0C137.9 353.0 138.2 351.3 137.5 360.0C136.8 368.7 138.1 368.8 138.8 377.5C139.4 386.2 137.0 385.8 140.0 392.5C143.0 399.2 145.7 397.8 150.0 402.5C154.3 407.2 154.2 405.3 156.2 410.0C158.2 414.7 157.5 414.7 157.5 420.0C157.5 425.3 156.6 427.3 156.2 430.0M352.5 291.2C355.2 292.2 356.5 293.7 362.5 295.0C368.5 296.3 371.7 295.9 375.0 296.2M360.0 301.2C358.7 299.9 364.0 299.8 370.0 297.5C376.0 295.2 376.5 294.2 382.5 292.5C388.5 290.8 388.5 290.6 392.5 291.2C396.5 291.9 398.8 293.0 397.5 295.0C396.2 297.0 393.5 296.8 387.5 298.8C381.5 300.8 382.3 301.8 375.0 302.5C367.7 303.2 361.3 302.6 360.0 301.2M387.5 307.5C384.5 309.5 384.0 312.2 380.0 317.5C376.0 322.8 375.8 322.2 372.5 327.5C369.2 332.8 367.5 333.8 367.5 337.5C367.5 341.2 369.8 342.6 372.5 341.2C375.2 339.9 374.2 338.2 377.5 332.5C380.8 326.8 381.3 326.0 385.0 320.0C388.7 314.0 390.6 313.3 391.2 310.0C391.9 306.7 390.5 305.5 387.5 307.5M400.0 312.5C401.3 308.5 403.5 306.3 407.5 305.0C411.5 303.7 411.7 304.8 415.0 307.5C418.3 310.2 420.0 310.3 420.0 315.0C420.0 319.7 418.3 321.0 415.0 325.0C411.7 329.0 411.5 329.3 407.5 330.0C403.5 330.7 401.3 330.2 400.0 327.5C398.7 324.8 402.5 324.0 402.5 320.0C402.5 316.0 398.7 316.5 400.0 312.5M395.0 340.0C397.0 338.0 400.8 338.0 407.5 335.0C414.2 332.0 415.3 330.1 420.0 328.8C424.7 327.4 427.0 327.3 425.0 330.0C423.0 332.7 419.2 335.4 412.5 338.8C405.8 342.1 404.7 342.2 400.0 342.5C395.3 342.8 393.0 342.0 395.0 340.0M562.5 285.0C559.2 287.0 557.3 287.8 550.0 292.5C542.7 297.2 542.3 297.8 535.0 302.5C527.7 307.2 529.2 306.7 522.5 310.0C515.8 313.3 516.0 312.3 510.0 315.0C504.0 317.7 506.7 317.3 500.0 320.0C493.3 322.7 493.0 321.7 485.0 325.0C477.0 328.3 478.0 327.8 470.0 332.5C462.0 337.2 461.7 337.2 455.0 342.5C448.3 347.8 450.3 346.5 445.0 352.5C439.7 358.5 439.7 360.3 435.0 365.0C430.3 369.7 430.2 366.0 427.5 370.0C424.8 374.0 427.0 374.7 425.0 380.0C423.0 385.3 424.0 384.7 420.0 390.0C416.0 395.3 416.0 395.3 410.0 400.0C404.0 404.7 404.2 403.5 397.5 407.5C390.8 411.5 390.3 410.3 385.0 415.0C379.7 419.7 380.2 419.7 377.5 425.0C374.8 430.3 374.3 429.7 375.0 435.0C375.7 440.3 378.3 439.7 380.0 445.0C381.7 450.3 382.6 450.3 381.2 455.0C379.9 459.7 378.0 461.5 375.0 462.5C372.0 463.5 372.7 462.1 370.0 458.8C367.3 455.4 367.0 455.0 365.0 450.0C363.0 445.0 363.8 444.7 362.5 440.0C361.2 435.3 364.0 435.8 360.0 432.5C356.0 429.2 354.2 429.5 347.5 427.5C340.8 425.5 341.7 424.7 335.0 425.0C328.3 425.3 329.2 427.4 322.5 428.8C315.8 430.1 317.3 429.0 310.0 430.0C302.7 431.0 303.0 430.5 295.0 432.5C287.0 434.5 286.7 434.2 280.0 437.5C273.3 440.8 273.7 439.7 270.0 445.0C266.3 450.3 268.2 451.5 266.2 457.5C264.2 463.5 264.2 461.5 262.5 467.5C260.8 473.5 260.7 472.7 260.0 480.0C259.3 487.3 259.0 487.7 260.0 495.0C261.0 502.3 260.4 502.2 263.8 507.5C267.1 512.8 266.8 513.3 272.5 515.0C278.2 516.7 278.3 515.1 285.0 513.8C291.7 512.4 292.8 513.7 297.5 510.0C302.2 506.3 299.8 504.7 302.5 500.0C305.2 495.3 302.8 494.8 307.5 492.5C312.2 490.2 315.0 490.6 320.0 491.2C325.0 491.9 325.6 490.7 326.2 495.0C326.9 499.3 324.2 501.5 322.5 507.5C320.8 513.5 322.0 512.8 320.0 517.5C318.0 522.2 317.7 521.7 315.0 525.0C312.3 528.3 311.3 528.7 310.0 530.0M156.2 410.0C159.9 410.3 162.3 409.2 170.0 411.2C177.7 413.2 177.0 415.2 185.0 417.5C193.0 419.8 193.3 420.7 200.0 420.0C206.7 419.3 204.7 415.0 210.0 415.0C215.3 415.0 215.3 416.0 220.0 420.0C224.7 424.0 222.8 427.3 227.5 430.0C232.2 432.7 232.2 429.7 237.5 430.0C242.8 430.3 242.8 427.9 247.5 431.2C252.2 434.6 251.7 436.2 255.0 442.5C258.3 448.8 257.0 451.0 260.0 455.0C263.0 459.0 264.6 456.8 266.2 457.5M156.2 430.0C157.2 434.0 157.0 437.0 160.0 445.0C163.0 453.0 163.5 452.7 167.5 460.0C171.5 467.3 171.3 467.5 175.0 472.5C178.7 477.5 179.9 479.4 181.2 478.8C182.6 478.1 181.7 476.3 180.0 470.0C178.3 463.7 177.0 463.0 175.0 455.0C173.0 447.0 172.5 449.3 172.5 440.0C172.5 430.7 176.7 425.7 175.0 420.0C173.3 414.3 168.9 416.1 166.2 418.8C163.6 421.4 164.3 423.0 165.0 430.0C165.7 437.0 167.8 441.0 168.8 445.0M175.0 420.0C175.7 425.3 174.8 430.7 177.5 440.0C180.2 449.3 180.3 447.0 185.0 455.0C189.7 463.0 189.7 461.3 195.0 470.0C200.3 478.7 202.3 478.2 205.0 487.5C207.7 496.8 201.7 497.0 205.0 505.0C208.3 513.0 210.2 511.5 217.5 517.5C224.8 523.5 223.8 522.8 232.5 527.5C241.2 532.2 240.7 531.7 250.0 535.0C259.3 538.3 258.2 538.0 267.5 540.0C276.8 542.0 279.0 543.8 285.0 542.5C291.0 541.2 286.7 539.7 290.0 535.0C293.3 530.3 292.2 529.0 297.5 525.0C302.8 521.0 306.7 521.3 310.0 520.0M297.5 525.0C300.2 527.0 305.5 527.8 307.5 532.5C309.5 537.2 303.0 539.2 305.0 542.5C307.0 545.8 309.7 546.3 315.0 545.0C320.3 543.7 318.3 539.5 325.0 537.5C331.7 535.5 334.0 535.5 340.0 537.5C346.0 539.5 345.5 543.0 347.5 545.0M345.0 487.5C343.7 486.5 347.2 483.6 352.5 481.2C357.8 478.9 358.3 478.4 365.0 478.8C371.7 479.1 370.8 478.8 377.5 482.5C384.2 486.2 383.3 487.8 390.0 492.5C396.7 497.2 396.5 496.7 402.5 500.0C408.5 503.3 411.2 503.0 412.5 505.0C413.8 507.0 412.2 508.2 407.5 507.5C402.8 506.8 401.7 505.8 395.0 502.5C388.3 499.2 389.2 499.0 382.5 495.0C375.8 491.0 376.7 490.2 370.0 487.5C363.3 484.8 364.2 485.0 357.5 485.0C350.8 485.0 346.3 488.5 345.0 487.5M412.5 508.8C414.5 505.8 416.5 505.7 422.5 505.0C428.5 504.3 429.0 504.2 435.0 506.2C441.0 508.2 445.0 510.2 445.0 512.5C445.0 514.8 440.3 513.7 435.0 515.0C429.7 516.3 430.3 517.2 425.0 517.5C419.7 517.8 418.3 518.6 415.0 516.2C411.7 513.9 410.5 511.8 412.5 508.8M455.0 515.0C456.7 513.7 460.2 513.1 462.5 513.8C464.8 514.4 465.4 516.2 463.8 517.5C462.1 518.8 458.6 519.4 456.2 518.8C453.9 518.1 453.3 516.3 455.0 515.0M387.5 466.2C388.5 463.9 391.8 464.2 393.8 466.2C395.8 468.2 396.0 471.4 395.0 473.8C394.0 476.1 392.0 477.0 390.0 475.0C388.0 473.0 386.5 468.6 387.5 466.2M505.0 325.0C505.7 322.7 508.3 321.5 515.0 317.5C521.7 313.5 527.3 309.3 530.0 310.0C532.7 310.7 529.7 315.7 525.0 320.0C520.3 324.3 517.8 324.9 512.5 326.2C507.2 327.6 504.3 327.3 505.0 325.0M885.0 400.0C882.8 403.7 881.9 407.2 876.7 413.9C871.5 420.6 872.2 419.8 865.6 425.0C858.9 430.2 859.1 428.9 851.7 433.3C844.3 437.8 845.2 438.7 837.8 441.7C830.4 444.6 831.3 443.0 823.9 444.4C816.5 445.9 815.9 442.8 810.0 447.2C804.1 451.7 806.9 453.0 801.7 461.1C796.5 469.3 795.7 469.6 790.6 477.8C785.4 485.9 783.3 482.8 782.2 491.7C781.1 500.6 785.6 500.7 786.4 511.1C787.1 521.5 786.5 520.9 785.0 530.6C783.5 540.2 781.6 538.3 780.8 547.2C780.1 556.1 778.9 558.0 782.2 563.9C785.6 569.8 788.1 564.3 793.3 569.4C798.5 574.6 797.2 575.9 801.7 583.3C806.1 590.7 804.8 590.6 810.0 597.2C815.2 603.9 814.4 602.4 821.1 608.3C827.8 614.3 829.1 615.7 835.0 619.4C840.9 623.1 838.9 623.0 843.3 622.2C847.8 621.5 845.7 618.9 851.7 616.7C857.6 614.4 859.6 613.9 865.6 613.9C871.5 613.9 868.7 616.7 873.9 616.7C879.1 616.7 878.3 616.1 885.0 613.9C891.7 611.7 890.7 610.2 898.9 608.3C907.0 606.5 908.1 605.5 915.6 606.9C923.0 608.4 922.2 610.2 926.7 613.9C931.1 617.6 926.3 619.0 932.2 620.8C938.1 622.7 941.5 621.2 948.9 620.8C956.3 620.5 957.0 619.8 960.0 619.4M808.6 447.2C808.2 449.4 799.4 453.3 807.2 455.6C815.0 457.8 829.6 459.3 837.8 455.6C845.9 451.9 837.8 445.4 837.8 441.7M815.6 458.3C814.8 464.3 815.4 470.9 812.8 480.6C810.2 490.2 813.6 490.7 805.8 494.4C798.1 498.1 789.5 494.4 783.6 494.4M837.8 450.0C842.2 453.0 841.9 451.5 854.4 461.1C867.0 470.7 871.7 475.7 885.0 486.1C898.3 496.5 896.3 493.7 904.4 500.0C912.6 506.3 909.6 507.5 915.6 509.7C921.5 511.9 920.0 511.7 926.7 508.3C933.3 505.0 931.7 502.4 940.6 497.2C949.4 492.0 954.8 491.1 960.0 488.9M855.8 468.1C855.1 472.1 853.4 471.9 853.1 483.3C852.7 494.8 853.7 497.0 854.4 511.1C855.2 525.2 861.8 529.1 855.8 536.1C849.9 543.1 843.0 536.8 832.2 537.5C821.5 538.2 820.0 534.1 815.6 538.9C811.1 543.7 815.6 551.1 815.6 555.6M815.6 555.6C816.3 557.8 813.1 561.7 818.3 563.9C823.5 566.1 829.4 561.3 835.0 563.9C840.6 566.5 834.7 570.6 839.2 573.6C843.6 576.6 846.9 576.9 851.7 575.0C856.5 573.1 853.5 571.9 857.2 566.7C860.9 561.5 859.6 561.5 865.6 555.6C871.5 549.6 873.5 548.1 879.4 544.4C885.4 540.7 884.1 540.2 887.8 541.7C891.5 543.1 889.6 545.6 893.3 550.0C897.0 554.4 896.5 555.4 901.7 558.3C906.9 561.3 907.6 563.0 912.8 561.1C918.0 559.3 917.4 554.4 921.1 551.4C924.8 548.4 921.5 549.3 926.7 550.0C931.9 550.7 931.7 552.7 940.6 554.2C949.4 555.6 954.8 555.2 960.0 555.6M915.6 509.7C917.0 512.3 920.4 512.4 921.1 519.4C921.9 526.5 922.8 530.2 918.3 536.1C913.9 542.0 911.1 540.2 904.4 541.7C897.8 543.1 896.3 541.7 893.3 541.7M785.0 530.6C788.7 530.2 791.5 526.9 798.9 529.2C806.3 531.4 808.3 534.8 812.8 538.9C817.2 543.0 814.8 543.0 815.6 544.4M793.3 569.4C795.6 567.2 795.7 562.6 801.7 561.1C807.6 559.6 811.9 563.1 815.6 563.9M801.7 583.3C803.9 581.9 805.6 578.5 810.0 577.8C814.4 577.0 815.7 576.9 818.3 580.6C820.9 584.3 821.9 587.2 819.7 591.7C817.5 596.1 812.6 595.7 810.0 597.2M818.3 580.6C820.6 582.8 823.7 584.4 826.7 588.9C829.6 593.3 827.2 595.7 829.4 597.2C831.7 598.7 832.4 600.7 835.0 594.4C837.6 588.1 838.1 579.2 839.2 573.6M835.0 594.4C835.7 598.1 835.6 600.9 837.8 608.3C840.0 615.7 841.9 618.5 843.3 622.2M871.1 577.8C871.9 582.2 873.9 586.3 873.9 594.4C873.9 602.6 871.1 602.4 871.1 608.3C871.1 614.3 873.1 614.4 873.9 616.7M851.7 575.0C856.9 575.7 865.2 578.5 871.1 577.8C877.0 577.0 870.9 574.4 873.9 572.2C876.9 570.0 877.0 570.9 882.2 569.4C887.4 568.0 888.9 565.9 893.3 566.7C897.8 567.4 896.7 574.4 898.9 572.2C901.1 570.0 900.9 562.0 901.7 558.3M898.9 572.2C900.4 576.7 903.3 579.6 904.4 588.9C905.6 598.1 903.4 602.1 903.1 606.9M912.8 561.1C912.4 565.6 912.5 568.9 911.4 577.8C910.3 586.7 909.0 586.7 908.6 594.4C908.2 602.2 909.6 603.6 910.0 606.9M460.0 252.5C462.7 249.2 464.0 246.7 470.0 240.0C476.0 233.3 477.8 234.2 482.5 227.5C487.2 220.8 483.5 221.0 487.5 215.0C491.5 209.0 492.8 210.3 497.5 205.0C502.2 199.7 499.0 198.0 505.0 195.0C511.0 192.0 513.3 191.8 520.0 193.8C526.7 195.8 526.0 197.5 530.0 202.5C534.0 207.5 530.3 209.2 535.0 212.5C539.7 215.8 540.8 215.7 547.5 215.0C554.2 214.3 555.3 208.7 560.0 210.0C564.7 211.3 562.3 214.0 565.0 220.0C567.7 226.0 566.7 225.8 570.0 232.5C573.3 239.2 573.5 239.7 577.5 245.0C581.5 250.3 584.3 247.2 585.0 252.5C585.7 257.8 584.0 259.0 580.0 265.0C576.0 271.0 576.0 271.0 570.0 275.0C564.0 279.0 564.2 277.3 557.5 280.0C550.8 282.7 548.3 283.7 545.0 285.0M460.0 287.5C464.0 285.5 467.0 284.0 475.0 280.0C483.0 276.0 480.7 275.2 490.0 272.5C499.3 269.8 499.3 271.3 510.0 270.0C520.7 268.7 520.0 265.5 530.0 267.5C540.0 269.5 546.2 272.2 547.5 277.5C548.8 282.8 543.0 282.8 535.0 287.5C527.0 292.2 526.2 291.0 517.5 295.0C508.8 299.0 511.2 297.8 502.5 302.5C493.8 307.2 493.0 306.5 485.0 312.5C477.0 318.5 479.2 317.0 472.5 325.0C465.8 333.0 463.3 337.8 460.0 342.5M570.0 275.0C572.7 270.3 574.7 268.7 580.0 270.0C585.3 271.3 588.7 274.0 590.0 280.0C591.3 286.0 589.0 288.5 585.0 292.5C581.0 296.5 579.0 296.3 575.0 295.0C571.0 293.7 571.3 292.8 570.0 287.5C568.7 282.2 567.3 279.7 570.0 275.0M465.0 182.5C467.0 178.8 469.0 176.3 475.0 175.0C481.0 173.7 483.5 174.8 487.5 177.5C491.5 180.2 492.0 181.7 490.0 185.0C488.0 188.3 486.0 189.0 480.0 190.0C474.0 191.0 471.5 190.8 467.5 188.8C463.5 186.8 463.0 186.2 465.0 182.5"/></defs><use href="#wm" fill="none" stroke="#d8eef9" stroke-width="3.6" stroke-linejoin="round" stroke-linecap="round"/></svg>
<div id="cres"></div>
<h1 id="title">
<span class="tx ttl" id="t1a" style="left:54.0px;top:19.60px;font:italic 700 65px/1.2 'Liberation Sans', sans-serif;color:#404040;transform:scaleX(0.9736)">Laboratory</span>
<span class="tx ttl" id="t1b" style="left:406.0px;top:19.60px;font:italic 700 65px/1.2 'Liberation Sans', sans-serif;color:#404040;transform:scaleX(0.9831)">Information</span>
<span class="tx ttl" id="t1c" style="left:775.9px;top:19.60px;font:italic 700 65px/1.2 'Liberation Sans', sans-serif;color:#404040;transform:scaleX(1.0526)">Management</span>
<span class="tx ttl" id="t1d" style="left:1214.7px;top:19.60px;font:italic 700 65px/1.2 'Liberation Sans', sans-serif;color:#404040;transform:scaleX(0.9447)">System</span>
<span class="tx ttl" id="t2a" style="left:54.2px;top:96.70px;font:italic 700 65px/1.2 'Liberation Sans', sans-serif;color:#404040;transform:scaleX(0.8446)">Lims</span>
<span class="tx ttl" id="t2b" style="left:204.0px;top:96.70px;font:italic 700 65px/1.2 'Liberation Sans', sans-serif;color:#404040;transform:scaleX(1.0142)">Market</span>
<span class="tx ttl" id="t2c" style="left:441.0px;top:96.70px;font:italic 700 65px/1.2 'Liberation Sans', sans-serif;color:#404040;transform:scaleX(0.9722)">2024</span>
<span class="tx ttl" id="t2d" style="left:597.3px;top:96.70px;font:italic 700 65px/1.2 'Liberation Sans', sans-serif;color:#404040;transform:scaleX(0.9107)">to</span>
<span class="tx ttl" id="t2e" style="left:679.9px;top:96.70px;font:italic 700 65px/1.2 'Liberation Sans', sans-serif;color:#404040;transform:scaleX(0.9448)">2032</span>
</h1>
<svg class="map" id="mapline" viewBox="0 0 1920 1080" aria-hidden="true"><use href="#wm" fill="none" stroke="#8fb9cf" stroke-width="1.2" stroke-linejoin="round" stroke-linecap="round"/></svg>
<section id="market-size">
<div id="panel"></div>
<div class="tx thinC" id="c1" style="left:291.9px;top:247.00px;font:normal 400 26.5px/1.2 'Liberation Sans', sans-serif;color:#111;transform:scaleX(1.1162)">Global Market Size, 2024 and 2032</div>
<div class="tx" id="c2" style="left:431.3px;top:287.00px;font:normal 700 29px/1.2 'Liberation Sans', sans-serif;color:#000;transform:scaleX(1.0343)">(USD Billion)</div>
<div id="chart"></div>
<div class="gl" style="top:456px"></div><div class="gl" style="top:511px"></div><div class="gl" style="top:566px"></div><div class="gl" style="top:622px"></div><div class="gl" style="top:677px"></div><div class="gl" style="top:732px"></div><div class="gl" style="top:788px"></div>
<div class="bar" id="b1"></div><div class="bar" id="b2"></div>
<div class="tx thinC" id="v1" style="left:326.9px;top:618.70px;font:normal 400 26px/1.2 'Liberation Sans', sans-serif;color:#111;transform:scaleX(1.0750)">2.59</div>
<div class="tx thinC" id="v2" style="left:663.9px;top:461.00px;font:normal 400 26px/1.2 'Liberation Sans', sans-serif;color:#111;transform:scaleX(1.0969)">6.54</div>
<div class="tx thinC" id="y1" style="left:321.8px;top:807.60px;font:normal 400 21.6px/1.2 'Liberation Sans', sans-serif;color:#2a3b42;transform:scaleX(1.1326)">2024</div>
<div class="tx thinC" id="y2" style="left:664.8px;top:807.60px;font:normal 400 21.6px/1.2 'Liberation Sans', sans-serif;color:#2a3b42;transform:scaleX(1.1326)">2032</div>
</section>
<section id="cagr">
<div id="circ"></div>
<div class="tx" id="g1" style="left:1143.9px;top:540.40px;font:normal 700 47px/1.2 'Liberation Sans', sans-serif;color:#fff;transform:scaleX(1.0200)">CAGR</div>
<div class="tx" id="g2" style="left:1148.9px;top:598.70px;font:normal 700 47px/1.2 'Liberation Sans', sans-serif;color:#fff;transform:scaleX(0.9760)">12.3%</div>
</section>
<section id="segments">
<div id="seg"></div>
<div class="tx" id="s1" style="left:1492.3px;top:320.50px;font:normal 700 39px/1.2 'Liberation Sans', sans-serif;color:#000;transform:scaleX(1.0509)">Market Segments</div>
<div class="tx" id="s2" style="left:1492.4px;top:368.40px;font:normal 700 39px/1.2 'Liberation Sans', sans-serif;color:#000;transform:scaleX(1.0394)">Based on</div>
<div class="tx" id="s3" style="left:1492.3px;top:416.30px;font:normal 700 39px/1.2 'Liberation Sans', sans-serif;color:#000;transform:scaleX(1.0827)">Deployment Mode:</div>
<div class="tx bul" id="bu0" style="left:1497.1px;top:456.20px;font:normal 400 50px/1.2 'Liberation Sans', sans-serif;color:#000;transform:scaleX(0.9286)">•</div>
<div class="tx thinS" id="s4" style="left:1517.3px;top:464.20px;font:normal 400 39px/1.2 'Liberation Sans', sans-serif;color:#000;transform:scaleX(1.0688)">On Premise</div>
<div class="tx bul" id="bu1" style="left:1497.1px;top:504.10px;font:normal 400 50px/1.2 'Liberation Sans', sans-serif;color:#000;transform:scaleX(0.9286)">•</div>
<div class="tx thinS" id="s5" style="left:1517.1px;top:512.10px;font:normal 400 39px/1.2 'Liberation Sans', sans-serif;color:#000;transform:scaleX(1.1251)">Cloud Based</div>
<div class="tx" id="s6" style="left:1492.4px;top:560.00px;font:normal 700 39px/1.2 'Liberation Sans', sans-serif;color:#000;transform:scaleX(1.0394)">Based on</div>
<div class="tx" id="s7" style="left:1493.4px;top:607.90px;font:normal 700 39px/1.2 'Liberation Sans', sans-serif;color:#000;transform:scaleX(1.0705)">Component:</div>
<div class="tx bul" id="bu2" style="left:1497.1px;top:647.80px;font:normal 400 50px/1.2 'Liberation Sans', sans-serif;color:#000;transform:scaleX(0.9286)">•</div>
<div class="tx thinS" id="s8" style="left:1517.2px;top:655.80px;font:normal 400 39px/1.2 'Liberation Sans', sans-serif;color:#000;transform:scaleX(1.1187)">Software</div>
<div class="tx bul" id="bu3" style="left:1497.1px;top:695.70px;font:normal 400 50px/1.2 'Liberation Sans', sans-serif;color:#000;transform:scaleX(0.9286)">•</div>
<div class="tx thinS" id="s9" style="left:1517.2px;top:703.70px;font:normal 400 39px/1.2 'Liberation Sans', sans-serif;color:#000;transform:scaleX(1.0849)">Service</div>
<div class="tx" id="s10" style="left:1492.5px;top:751.60px;font:normal 700 39px/1.2 'Liberation Sans', sans-serif;color:#000;transform:scaleX(1.0066)">Based on End-User:</div>
<div class="tx bul" id="bu4" style="left:1497.1px;top:791.50px;font:normal 400 50px/1.2 'Liberation Sans', sans-serif;color:#000;transform:scaleX(0.9286)">•</div>
<div class="tx thinS" id="s11" style="left:1517.8px;top:799.50px;font:normal 400 39px/1.2 'Liberation Sans', sans-serif;color:#000;transform:scaleX(1.0702)">Life Sciences</div>
<div class="tx bul" id="bu5" style="left:1497.1px;top:839.40px;font:normal 400 50px/1.2 'Liberation Sans', sans-serif;color:#000;transform:scaleX(0.9286)">•</div>
<div class="tx thinS" id="s12" style="left:1517.4px;top:847.40px;font:normal 400 39px/1.2 'Liberation Sans', sans-serif;color:#000;transform:scaleX(1.0087)">CROs</div>
</section>
<header id="brand">
<svg id="logo" style="position:absolute;left:1556px;top:44px" width="60" height="60" viewBox="1556 44 60 60">
<defs><linearGradient id="lg2" x1="0" y1="0" x2="0" y2="1"><stop offset="0" stop-color="#1ba8b0"/><stop offset="1" stop-color="#19b4de"/></linearGradient></defs>
<rect x="1573.6" y="73.4" width="5.6" height="16" fill="#1bb4dc"/>
<rect x="1583" y="66.8" width="5.6" height="24" fill="url(#lg2)"/>
<rect x="1592.8" y="55" width="5.2" height="37" fill="#5a6b7f"/>
<circle cx="1586" cy="74" r="19.9" fill="none" stroke="#5a6b7f" stroke-width="6.2"/>
<path d="M1563 76 L1563.3 94.5 L1572.5 87.5 L1568 78 Z" fill="#5a6b7f"/>
</svg>

<div class="tx cred" id="l1" style="left:1616.6px;top:51.20px;font:normal 400 26.5px/1.2 'Liberation Sans', sans-serif;color:#21aec4;transform:scaleX(1.0894)">Credence</div>
<div class="tx" id="l2" style="left:1749.9px;top:51.20px;font:normal 400 26.5px/1.2 'Liberation Sans', sans-serif;color:#56687b;transform:scaleX(1.0745)">Research</div>
<div class="tx tag" id="l3" style="left:1617.0px;top:83.50px;font:normal 700 8.4px/1.2 'Liberation Sans', sans-serif;color:#505a68;letter-spacing:4.6px;transform:scaleX(1.0236)">Actionable Insights Delivered</div>
</header>
</body></html>
